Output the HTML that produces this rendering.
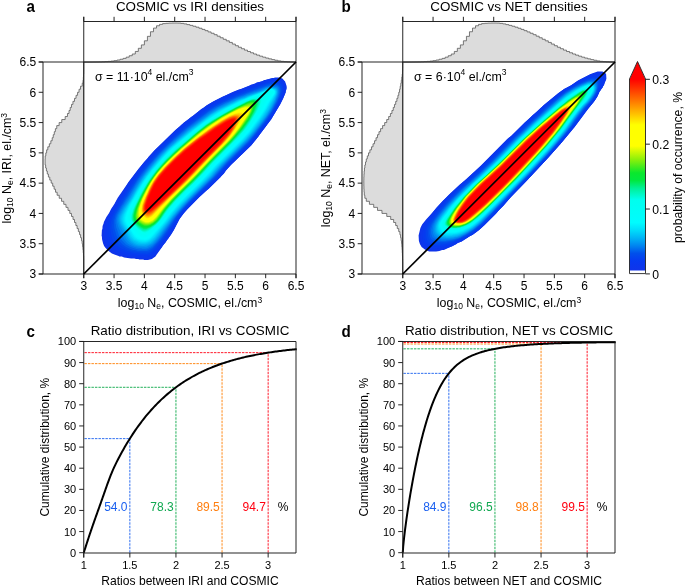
<!DOCTYPE html>
<html><head><meta charset="utf-8"><style>
html,body{margin:0;padding:0;background:#fff;}
svg{display:block;font-family:"Liberation Sans", sans-serif;will-change:transform;}
</style></head><body>
<svg width="685" height="585" viewBox="0 0 685 585">
<rect width="685" height="585" fill="#fff"/>
<defs><clipPath id="ca"><rect x="83.75" y="62" width="212.25" height="212"/></clipPath><clipPath id="cb"><rect x="402.75" y="62" width="212.25" height="212"/></clipPath></defs>
<g clip-path="url(#ca)"><path d="M285.1 81.4 282.4 78.6 279.6 77.4 274.9 77.4 273.9 77.9 272.4 77.9 265.1 80.1 264.4 80.1 261.6 81.4 256.6 82.6 255.4 83.4 253.4 83.9 252.1 84.6 251.4 84.6 249.6 85.6 240.9 89.1 238.9 89.6 232.6 92.1 224.4 96.1 223.1 96.4 214.1 100.9 206.4 105.4 203.4 107.9 201.4 108.9 192.9 115.9 191.1 116.9 188.1 119.6 183.9 122.6 182.4 124.1 181.1 124.9 179.6 126.6 175.9 129.6 154.4 150.6 148.4 157.1 147.6 158.4 144.6 161.4 140.1 167.1 138.4 168.9 128.1 182.4 126.9 184.6 117.6 198.1 114.4 204.1 111.1 208.9 109.1 212.9 106.4 217.1 103.9 222.1 103.6 223.6 102.6 225.9 102.4 228.9 101.9 230.1 101.6 236.1 101.9 236.4 102.1 239.6 103.1 243.6 104.1 245.9 105.6 248.1 108.6 251.1 111.9 253.4 114.4 254.6 118.6 255.9 119.4 256.4 121.9 256.6 124.1 257.4 131.1 258.4 131.4 258.6 134.4 258.6 136.1 259.1 138.6 259.1 138.9 259.4 141.1 259.4 141.4 259.6 143.6 259.6 143.9 259.9 147.9 259.9 151.9 258.9 155.4 256.4 162.1 247.1 162.9 245.6 165.6 242.4 167.1 239.9 168.4 238.6 168.9 237.4 171.1 234.6 173.6 230.6 179.1 219.6 183.6 213.4 187.1 209.4 199.4 197.1 207.1 189.9 208.4 189.1 220.6 177.1 221.4 175.9 223.9 173.4 225.9 170.6 230.9 165.1 251.1 145.4 258.4 136.6 259.4 134.9 266.6 125.6 266.9 124.9 271.1 119.4 280.1 104.4 283.1 98.6 285.6 92.4 285.6 91.6 286.6 88.9 286.6 85.9Z" fill="#0f34ea"/>
<path d="M283.9 81.1 281.1 78.9 279.1 78.1 277.6 78.1 277.4 77.9 273.6 78.1 267.6 79.4 256.4 83.1 241.4 89.1 238.6 89.9 223.1 96.6 212.4 102.1 207.4 105.1 201.6 109.1 183.6 123.1 174.6 130.9 154.4 150.6 145.1 160.9 139.4 167.9 128.6 182.4 121.9 193.1 117.9 198.9 117.4 200.1 115.9 202.1 115.4 203.4 111.4 209.6 105.9 220.9 104.4 225.9 104.1 229.4 103.9 229.6 103.6 234.1 103.9 234.4 104.4 238.9 105.9 243.6 108.4 247.6 112.9 251.4 116.6 253.4 120.6 254.9 129.9 257.1 134.9 257.6 136.9 258.1 146.4 258.9 146.6 258.6 149.6 258.4 151.6 257.6 154.9 255.4 161.1 247.9 170.4 235.4 174.1 229.6 179.9 218.4 183.6 213.4 187.1 209.4 199.4 197.1 207.1 189.9 208.4 189.1 220.6 177.1 221.4 175.9 223.9 173.4 225.9 170.6 230.9 165.1 251.1 145.4 258.4 136.6 259.4 134.9 266.6 125.6 266.9 124.9 271.1 119.4 280.1 104.4 283.1 98.6 285.6 92.4 286.4 87.6 285.6 84.4Z" fill="#0b37ed"/>
<path d="M282.6 82.1 280.9 80.6 278.4 79.6 274.4 79.6 267.1 81.1 263.4 82.6 258.1 84.1 234.1 93.4 224.1 98.1 223.6 98.1 215.1 102.4 209.1 105.9 202.6 110.4 184.9 124.1 175.6 132.1 170.4 137.4 166.6 140.6 154.9 152.4 146.4 161.9 139.4 170.4 133.9 177.6 128.9 184.9 125.9 189.9 119.9 198.6 118.6 201.1 117.1 203.1 116.6 204.4 112.6 210.6 108.1 219.9 106.9 223.6 106.1 227.4 106.1 234.9 106.4 235.1 106.4 236.4 108.4 242.9 110.6 246.4 115.1 250.1 119.1 252.1 125.9 254.4 131.4 255.6 134.6 255.9 136.4 256.4 141.1 256.6 141.4 256.9 146.6 257.1 150.1 256.4 153.1 254.6 157.1 250.4 165.6 239.4 172.6 229.1 175.4 223.9 179.1 217.9 184.4 211.4 198.9 196.4 211.4 184.9 217.4 178.9 226.4 168.4 232.6 161.9 250.1 144.9 255.9 138.1 270.1 119.4 273.9 113.4 278.6 105.1 281.9 98.4 283.4 94.4 284.6 89.4 284.4 85.6Z" fill="#0839ef"/>
<path d="M282.1 83.6 280.4 81.9 278.1 80.9 273.6 80.9 268.4 81.9 257.9 85.4 243.4 91.1 239.4 92.4 232.1 95.4 223.9 99.4 223.4 99.4 212.9 104.9 203.4 111.1 185.6 124.9 176.9 132.4 169.4 139.4 157.1 151.4 146.9 162.9 139.9 171.4 129.9 185.4 124.6 193.9 120.6 199.6 114.1 210.4 111.1 216.4 108.9 222.6 108.4 226.9 108.1 227.1 108.1 231.4 108.4 231.6 108.4 233.9 108.9 236.4 110.6 241.6 112.9 245.1 116.6 248.4 121.9 251.1 126.9 252.9 131.6 254.1 137.6 254.9 137.9 255.1 146.6 255.6 149.9 254.9 152.1 253.6 156.6 249.1 165.6 237.6 171.1 229.6 174.9 222.9 178.4 217.4 185.4 208.9 198.6 195.4 215.4 179.6 229.4 163.9 248.9 144.9 256.1 136.4 258.4 133.1 260.4 130.9 270.4 117.4 277.9 104.6 280.9 98.4 282.9 92.6 283.6 88.6 283.4 86.4Z" fill="#053def"/>
<path d="M281.4 84.6 279.6 82.9 278.1 82.1 276.6 82.1 276.4 81.9 272.4 82.1 267.4 83.1 245.4 91.1 242.1 92.6 239.4 93.4 228.9 97.9 225.1 99.9 224.6 99.9 213.1 105.9 204.1 111.9 185.6 126.1 169.6 140.4 155.4 154.6 147.9 163.1 140.1 172.6 131.1 185.4 125.6 194.4 121.6 200.1 116.9 208.4 115.1 210.9 112.4 216.6 111.1 220.4 110.4 223.9 110.4 226.4 110.1 226.6 110.4 231.1 111.4 236.1 113.1 240.9 115.1 243.9 118.1 246.6 120.9 248.4 125.6 250.6 131.9 252.6 134.4 252.9 137.4 253.6 146.9 254.1 149.1 253.6 152.4 251.6 156.6 247.4 162.4 240.4 171.6 227.1 174.9 221.4 177.9 216.9 185.1 208.1 198.6 194.4 207.1 186.6 217.1 176.6 223.9 168.6 228.1 164.1 249.9 142.6 256.4 134.9 257.6 132.9 263.9 125.1 269.4 117.6 275.4 107.6 278.9 100.9 278.9 100.4 280.6 96.9 282.4 90.6 282.4 87.1Z" fill="#0345ed"/>
<path d="M280.4 85.4 278.9 83.9 276.9 83.1 272.6 83.1 267.4 84.1 235.6 95.9 216.9 104.9 208.6 109.9 188.1 125.4 176.6 135.1 166.6 144.4 156.1 155.1 148.9 163.4 141.1 172.9 132.4 185.4 126.6 194.9 122.6 200.6 122.1 201.9 115.9 211.9 113.6 216.9 112.6 220.6 112.4 223.6 112.1 223.9 112.1 227.9 112.4 228.1 112.9 232.1 114.4 237.1 115.6 240.1 117.4 242.6 121.4 246.1 127.1 249.4 131.4 250.9 136.9 252.1 141.6 252.4 141.9 252.6 148.1 252.4 150.4 251.4 154.1 248.4 158.1 244.1 163.6 237.1 171.9 225.1 174.1 221.1 177.4 216.4 183.4 209.1 197.4 194.6 206.6 186.1 215.9 176.9 223.1 168.4 227.4 163.9 249.1 142.4 259.4 129.9 266.6 120.4 269.9 115.6 273.4 109.9 277.9 101.4 278.6 99.1 279.6 97.4 281.4 91.1 281.4 87.6Z" fill="#014eec"/>
<path d="M278.1 84.9 276.9 84.4 273.4 84.1 273.1 84.4 269.4 84.6 265.1 85.9 261.9 87.4 259.9 87.9 257.1 89.1 254.4 89.9 251.6 91.1 236.9 96.4 232.9 98.4 230.1 99.4 224.9 102.1 224.4 102.1 214.9 107.1 209.6 110.4 186.9 127.6 176.6 136.4 167.9 144.4 159.4 152.9 148.4 165.4 142.1 173.1 137.1 180.1 128.6 193.4 127.6 195.4 124.1 200.4 122.4 203.6 120.4 206.4 119.6 208.1 116.9 212.4 115.6 215.1 114.1 220.6 114.1 227.1 114.4 227.4 114.4 228.6 116.6 235.9 118.4 239.6 119.4 241.1 122.6 244.4 126.1 246.9 129.1 248.4 133.4 249.9 134.4 249.9 138.1 250.9 140.4 250.9 140.6 251.1 146.9 251.1 149.6 250.1 152.9 247.9 157.6 243.1 161.1 238.9 167.6 229.9 176.4 216.6 181.9 209.9 187.6 203.6 214.6 177.1 227.1 163.1 248.6 141.9 254.4 135.1 262.6 124.6 267.6 117.9 272.4 110.4 277.1 101.4 279.4 95.9 280.4 91.9 280.4 88.4 279.6 86.4Z" fill="#0060ed"/>
<path d="M277.6 86.1 275.6 85.4 270.6 85.4 265.1 86.9 263.9 87.6 257.4 89.9 256.6 90.4 253.9 91.1 253.1 91.6 246.1 93.9 244.1 94.9 236.9 97.4 227.6 101.9 227.1 101.9 216.4 107.4 208.9 112.1 188.4 127.6 178.9 135.6 168.9 144.6 159.9 153.6 148.1 167.1 143.1 173.4 137.6 181.1 128.6 195.9 125.1 200.9 123.4 204.1 122.1 205.6 116.9 215.1 115.6 220.1 115.6 223.9 115.9 224.1 116.1 226.9 119.1 235.4 120.6 238.4 122.1 240.6 125.9 244.4 130.4 247.1 136.4 249.1 139.6 249.4 139.9 249.6 146.9 249.6 149.4 248.6 152.1 246.9 157.6 241.6 162.4 235.6 174.6 217.9 182.6 208.1 190.1 200.1 213.6 177.1 226.6 162.6 248.1 141.4 254.1 134.4 264.1 121.6 271.1 111.4 276.4 101.4 278.4 96.4 279.4 92.9 279.6 90.1 279.4 89.9 279.4 88.6 278.6 87.1Z" fill="#0075ef"/>
<path d="M276.9 87.1 274.9 86.4 269.9 86.4 266.9 87.1 259.4 90.4 246.6 94.6 243.4 96.1 237.4 98.1 226.1 103.6 225.6 103.6 217.9 107.6 208.1 113.9 188.6 128.6 170.1 144.6 159.1 155.6 148.9 167.6 140.9 178.1 135.6 186.1 129.1 197.1 123.1 206.1 118.1 215.1 117.1 218.6 117.1 222.1 118.1 226.6 123.1 237.6 124.9 240.4 127.6 243.4 132.1 246.1 136.4 247.6 138.9 247.9 139.1 248.1 141.6 248.1 141.9 248.4 145.4 248.4 147.6 247.9 150.6 246.4 152.9 244.9 155.6 242.4 160.9 236.1 164.4 230.9 169.9 223.6 171.4 221.1 180.9 209.1 190.9 198.4 212.9 176.9 216.6 172.4 226.1 162.1 247.6 140.9 253.9 133.6 266.6 117.1 270.4 111.4 275.9 100.9 276.1 99.6 277.6 96.4 278.6 92.6 278.6 89.9 277.9 88.1Z" fill="#0089f1"/>
<path d="M276.6 88.1 274.1 87.1 269.4 87.1 266.1 88.1 260.1 90.9 238.9 98.4 232.1 101.6 231.6 101.6 217.9 108.6 208.9 114.4 188.1 130.1 170.1 145.6 160.6 155.1 152.1 164.9 145.1 173.6 141.4 178.9 135.6 187.9 128.9 199.4 123.4 207.6 119.1 215.6 118.4 218.4 118.4 220.9 119.4 224.9 122.1 229.9 126.4 238.9 127.6 240.6 130.1 243.1 134.1 245.4 138.1 246.6 145.9 246.9 148.4 246.1 151.4 244.6 153.6 242.9 156.4 240.1 161.4 233.9 162.4 232.1 169.1 223.4 173.9 216.6 181.9 207.1 188.9 199.6 212.4 176.4 215.9 172.1 226.1 161.1 247.4 140.1 252.6 134.1 258.4 126.9 267.4 114.9 268.9 112.1 270.4 110.1 274.4 102.6 277.4 95.1 277.9 93.1 277.9 90.1Z" fill="#009bf2"/>
<path d="M276.1 88.6 273.6 87.6 269.4 87.6 266.1 88.6 263.4 90.1 258.4 92.1 247.9 95.6 244.6 97.1 239.4 98.9 232.1 102.4 231.6 102.4 218.9 108.9 210.1 114.4 191.1 128.6 176.4 140.9 171.6 145.4 169.6 146.9 162.9 153.6 153.4 164.4 144.1 176.1 138.6 184.4 130.6 198.1 124.1 208.1 120.1 215.9 119.6 217.6 119.6 221.1 120.4 223.9 122.6 228.1 124.4 230.6 128.1 238.6 131.1 242.1 135.1 244.4 138.1 245.4 144.4 245.9 144.6 245.6 147.1 245.4 150.6 243.9 152.1 242.9 155.6 239.6 159.4 235.1 161.9 231.4 168.4 223.1 172.6 217.1 182.1 205.9 189.4 198.1 211.9 175.9 220.9 165.6 247.6 138.9 254.4 130.9 265.9 115.9 271.4 106.9 274.6 100.4 277.1 93.9 277.4 90.6Z" fill="#00adf4"/>
<path d="M275.9 89.1 275.1 88.6 272.4 87.9 268.9 88.1 266.6 88.9 263.9 90.4 260.9 91.4 259.6 92.1 248.6 95.9 244.1 97.9 242.1 98.4 237.9 100.1 218.4 109.9 210.1 115.1 188.4 131.6 169.4 147.9 161.1 156.4 153.1 165.6 144.9 176.1 139.9 183.6 131.6 197.9 124.6 208.9 121.4 215.4 120.6 217.9 120.6 220.6 121.4 223.4 123.6 227.6 126.4 231.9 128.9 237.4 131.4 240.6 133.4 242.1 135.9 243.4 138.9 244.4 145.6 244.6 150.4 242.9 154.6 239.4 158.6 234.6 171.1 217.9 181.9 205.1 211.4 175.4 214.9 171.1 221.4 164.1 245.1 140.6 252.1 132.6 262.6 119.1 269.1 109.4 274.1 99.9 276.4 94.6 276.9 92.6 276.9 90.9Z" fill="#00bef6"/>
<path d="M275.4 89.4 273.1 88.4 269.4 88.4 266.9 89.1 263.6 90.9 261.9 91.4 259.4 92.6 247.9 96.6 246.6 97.4 238.6 100.4 219.1 110.1 211.1 115.1 203.1 120.9 188.4 132.4 178.1 140.9 169.4 148.6 161.6 156.6 153.6 165.9 144.9 177.1 144.6 177.9 140.1 184.4 132.4 197.9 127.9 204.9 125.1 209.6 124.9 210.6 122.4 215.4 121.6 218.4 121.6 220.1 122.4 223.1 124.4 226.9 127.6 231.9 130.4 237.4 133.4 240.6 138.6 243.1 141.1 243.6 145.4 243.6 149.6 242.1 152.4 240.1 155.4 237.1 163.9 226.1 167.1 222.4 171.4 216.4 181.1 204.9 210.4 175.4 213.6 171.4 219.9 164.6 244.9 139.9 250.6 133.4 261.6 119.1 268.1 109.4 275.6 95.1 276.4 92.6 276.4 91.1Z" fill="#00cdf8"/>
<path d="M274.6 89.4 272.6 88.6 269.9 88.6 267.1 89.4 260.9 92.4 248.4 96.9 244.1 98.9 240.4 100.1 232.4 104.1 231.9 104.1 219.9 110.4 210.6 116.1 201.4 122.9 189.9 131.9 170.1 148.6 162.1 156.9 151.1 169.9 143.4 180.4 135.6 193.1 133.1 197.9 129.1 204.1 123.6 214.9 122.6 219.1 122.9 221.1 123.6 223.4 125.4 226.6 129.6 233.1 130.9 235.9 133.9 239.4 134.9 240.1 139.4 242.1 141.9 242.6 144.6 242.6 147.1 242.1 149.4 241.1 153.9 237.4 166.4 222.1 173.4 212.6 180.1 204.9 209.4 175.4 212.6 171.4 218.6 164.9 244.4 139.4 250.1 132.9 263.1 115.6 272.4 100.1 275.4 94.4 275.9 92.9 275.6 90.4Z" fill="#00ddfa"/>
<path d="M274.6 89.9 272.1 88.9 270.1 88.9 267.9 89.4 264.6 91.1 261.1 92.4 259.9 93.1 250.1 96.6 239.9 100.9 221.9 109.9 215.1 113.9 204.9 120.9 190.1 132.4 170.9 148.6 162.4 157.4 151.6 170.1 146.6 176.6 142.6 182.6 129.6 204.6 124.9 214.1 123.9 217.6 123.9 220.9 124.6 223.1 126.1 225.9 129.9 231.4 131.9 235.1 134.6 238.4 137.4 240.1 140.1 241.1 142.6 241.4 142.9 241.6 145.9 241.4 148.1 240.6 150.1 239.4 154.1 235.6 166.6 220.6 167.6 218.9 172.6 212.4 178.9 205.1 208.1 175.6 217.4 165.1 243.6 139.1 249.6 132.4 259.6 119.1 266.4 108.9 269.1 103.6 271.6 99.9 275.1 93.6 275.4 91.1Z" fill="#00e9fc"/>
<path d="M273.9 89.9 271.1 89.1 268.9 89.4 261.9 92.6 252.4 96.1 250.4 97.1 249.1 97.4 245.6 99.1 239.4 101.6 225.4 108.6 215.4 114.4 203.6 122.4 193.1 130.6 174.1 146.4 164.9 155.4 151.9 170.6 150.6 172.6 147.1 176.9 143.1 182.9 130.1 205.1 125.9 214.1 124.9 217.9 124.9 220.4 125.4 222.1 127.1 225.6 130.4 230.1 133.4 235.1 134.9 236.9 137.6 238.9 140.6 240.1 145.6 240.4 148.4 239.4 151.1 237.4 152.9 235.6 165.1 221.4 170.6 213.6 179.9 202.9 187.4 195.1 199.9 183.1 208.9 173.6 215.9 165.6 242.9 138.9 249.1 131.9 260.9 115.9 265.6 108.4 268.9 102.4 274.1 94.6 274.9 92.9 274.9 91.1Z" fill="#00f6fe"/>
<path d="M273.9 90.4 272.4 89.6 269.1 89.6 260.9 93.4 248.9 97.9 247.1 98.9 239.9 101.9 236.9 103.6 230.4 106.6 216.4 114.4 205.1 121.9 193.6 130.9 173.1 147.9 164.6 156.4 153.1 169.9 147.4 177.4 144.4 181.9 132.1 202.9 127.1 213.1 125.9 218.1 125.9 219.9 126.9 223.1 133.6 233.4 136.9 236.9 141.1 239.1 145.1 239.4 146.4 239.1 148.9 237.9 153.1 233.9 164.4 221.1 169.9 213.4 178.4 203.4 203.9 177.9 214.6 165.9 242.1 138.6 247.4 132.9 251.4 127.9 260.4 115.1 263.9 109.6 268.1 101.9 273.4 94.9 274.4 92.9 274.4 91.1Z" fill="#00fcfe"/>
<path d="M273.1 90.4 271.9 89.9 268.6 90.1 262.4 93.1 249.1 98.1 242.4 101.4 241.9 101.4 236.4 104.4 231.4 106.6 230.9 107.1 221.1 112.1 214.9 115.9 204.1 123.1 191.6 133.1 184.1 139.6 174.4 147.4 164.1 157.6 154.9 168.4 147.6 177.9 146.4 180.1 145.1 181.6 137.6 194.4 135.4 198.9 133.6 201.4 128.4 212.1 127.1 216.1 126.9 219.4 127.4 221.6 128.9 224.6 134.4 232.4 137.6 235.9 140.4 237.6 142.9 238.4 146.1 238.1 149.6 236.1 162.6 222.1 166.1 217.6 169.1 213.1 177.6 203.1 186.1 194.4 199.1 181.9 207.1 173.4 213.9 165.6 242.6 137.1 248.4 130.6 252.1 125.6 261.4 112.1 268.1 100.4 273.4 93.9 273.9 92.9 273.9 91.4Z" fill="#00fdfc"/>
<path d="M272.6 90.6 269.1 90.4 262.1 93.6 249.9 98.1 240.1 102.9 239.6 102.9 238.6 103.6 230.9 107.4 216.1 115.6 205.1 122.9 197.1 129.1 183.9 140.4 173.9 148.4 165.1 157.1 153.6 170.6 151.6 173.6 149.6 175.9 144.9 182.9 140.9 190.1 138.9 193.1 135.4 199.9 134.4 201.1 131.6 206.9 131.1 207.4 129.1 212.1 127.9 217.1 127.9 219.6 128.4 221.6 129.6 224.1 135.6 232.1 138.6 235.1 140.9 236.6 143.4 237.4 144.9 237.4 146.6 236.9 149.4 235.1 162.9 220.9 168.1 213.4 176.1 203.9 200.1 179.9 215.9 162.6 244.1 134.6 248.4 129.6 251.9 124.9 252.6 123.4 260.1 112.6 267.1 100.4 273.1 93.1 273.4 91.6Z" fill="#00fdf9"/>
<path d="M272.1 91.1 271.6 90.9 269.1 90.9 267.6 91.4 267.1 91.9 262.6 93.9 250.6 98.1 248.9 99.1 246.1 100.1 226.9 109.9 215.6 116.4 206.1 122.6 197.4 129.4 183.9 140.9 175.6 147.4 165.6 157.1 155.9 168.4 147.1 180.1 139.4 193.1 135.6 200.4 134.6 201.6 133.4 204.6 131.4 208.1 129.9 211.9 128.6 216.6 128.6 219.4 129.1 221.4 130.4 223.9 135.6 230.6 139.6 234.6 141.1 235.6 143.1 236.4 145.4 236.4 148.6 234.6 161.4 221.9 170.4 209.6 179.9 199.1 199.9 179.4 211.6 166.4 220.1 157.6 243.4 134.6 249.4 127.4 259.6 112.1 264.1 103.6 266.6 99.6 272.1 93.4 272.6 92.4Z" fill="#00fdf7"/>
<path d="M270.9 91.9 269.1 91.6 262.9 94.4 250.1 98.6 231.9 107.6 215.9 116.6 207.4 122.1 197.9 129.4 185.6 139.9 173.9 149.4 165.9 157.4 157.1 167.4 147.4 180.4 143.4 186.9 142.6 188.6 139.4 193.9 136.4 199.9 135.1 201.6 133.6 205.1 132.1 207.6 130.6 211.4 129.4 215.6 129.4 220.1 130.6 223.1 132.9 226.1 134.4 227.6 136.4 230.4 139.1 233.1 141.1 234.6 143.6 235.6 145.9 235.4 149.1 233.4 161.9 220.6 168.6 211.1 175.9 202.6 185.1 193.1 197.9 180.9 212.4 164.9 243.4 133.9 248.4 127.9 253.9 119.9 259.6 110.9 265.1 100.4 271.1 92.9Z" fill="#00fef5"/>
<path d="M267.6 94.1 264.9 94.4 258.9 96.4 255.4 97.1 250.9 98.6 247.4 100.4 246.9 100.4 226.9 110.6 213.6 118.4 205.4 123.9 198.6 129.1 184.6 141.1 174.4 149.4 165.6 158.1 155.9 169.4 149.6 177.6 146.1 182.9 139.6 194.1 136.4 200.6 135.1 202.4 131.1 211.4 129.9 215.6 129.9 219.9 130.4 221.4 131.6 223.6 133.6 226.1 139.1 232.1 140.6 233.4 142.9 234.6 143.9 234.9 145.6 234.6 148.4 233.1 156.9 225.4 162.6 219.1 168.1 211.1 175.1 202.9 200.9 177.1 211.6 165.1 241.9 134.9 248.4 127.1 257.6 113.1 260.9 107.4 264.6 99.4 267.6 94.9Z" fill="#00fef3"/>
<path d="M264.4 96.1 262.4 96.1 254.9 97.6 250.9 98.9 249.1 99.9 246.4 100.9 228.9 109.9 213.4 118.9 205.9 123.9 193.6 133.6 185.4 140.9 174.9 149.4 165.1 159.1 156.6 168.9 147.1 181.9 140.1 193.9 138.1 198.1 136.1 201.4 132.6 208.6 132.4 209.9 131.1 212.6 130.4 215.6 130.4 219.6 131.1 221.9 133.9 225.6 139.9 231.9 143.1 233.9 145.6 233.9 148.6 232.1 156.4 225.4 161.4 220.1 166.9 212.1 174.6 202.9 200.4 177.1 211.4 164.9 242.9 133.1 248.4 126.4 257.6 112.1 261.1 105.4 261.1 104.9 264.6 97.1Z" fill="#00fff1"/>
<path d="M262.4 97.6 260.1 97.4 259.9 97.6 257.6 97.6 257.4 97.9 254.4 98.1 251.6 98.9 246.4 101.1 227.1 111.1 211.9 120.1 205.6 124.4 199.1 129.4 184.6 141.9 175.6 149.1 164.4 160.4 156.4 169.6 150.1 177.9 147.1 182.4 136.4 201.6 132.4 210.4 131.1 214.1 130.9 216.9 130.6 217.1 131.1 220.6 132.1 222.6 133.9 224.9 138.9 230.1 142.6 232.9 145.4 233.1 148.6 231.4 155.6 225.6 161.4 219.6 166.6 211.9 174.4 202.6 200.4 176.6 211.4 164.4 238.6 137.1 243.9 131.4 248.4 125.6 256.9 112.4 259.6 107.1 262.6 99.4 262.6 97.9Z" fill="#00ffee"/>
<path d="M260.9 98.6 260.1 98.4 253.6 98.6 250.4 99.6 248.6 100.6 246.4 101.4 228.1 110.9 212.4 120.1 206.4 124.1 194.4 133.6 184.1 142.6 176.1 149.1 165.9 159.1 156.9 169.4 150.6 177.6 147.1 182.9 140.1 195.1 135.4 204.4 132.9 210.1 131.1 216.4 131.4 219.9 132.9 222.9 138.4 228.9 142.9 232.1 145.1 232.4 146.6 231.9 148.4 230.9 153.6 226.9 160.1 220.6 167.4 210.4 174.4 202.1 200.4 176.1 211.6 163.6 237.6 137.6 244.4 130.1 248.4 124.9 251.9 119.6 257.6 109.9 259.6 105.6 261.1 101.4 261.4 99.4Z" fill="#00fcdb"/>
<path d="M259.4 99.4 257.1 98.9 254.1 98.9 250.4 99.9 248.6 100.9 246.4 101.6 228.6 110.9 213.6 119.6 205.4 125.1 193.9 134.4 185.1 142.1 174.9 150.6 164.9 160.6 156.6 170.1 151.1 177.4 147.1 183.4 141.1 193.9 133.9 208.6 131.9 214.9 131.6 218.6 132.1 220.6 133.6 223.1 137.6 227.4 142.1 230.9 143.9 231.6 145.1 231.6 147.6 230.6 150.4 228.9 156.1 224.4 158.4 222.1 162.1 217.6 165.1 212.9 168.1 208.9 174.4 201.6 184.1 191.6 193.1 183.1 203.9 171.9 211.9 162.9 236.9 137.9 243.6 130.4 247.9 124.9 256.1 111.6 258.6 106.4 259.9 102.9 260.1 100.1Z" fill="#00f8c4"/>
<path d="M258.4 100.1 256.4 99.4 253.1 99.4 251.1 99.9 246.4 101.9 229.1 110.9 212.9 120.4 204.1 126.4 193.6 134.9 189.9 138.4 175.6 150.4 166.4 159.4 158.1 168.6 150.9 178.1 144.6 188.1 135.9 204.9 133.9 209.6 132.4 214.4 132.1 218.9 132.6 220.6 133.6 222.4 137.4 226.4 142.6 230.4 144.1 230.9 145.9 230.6 149.1 229.1 155.4 224.6 159.4 220.6 167.1 209.6 174.6 200.9 183.6 191.6 193.4 182.4 204.1 171.1 212.9 161.4 236.1 138.1 243.1 130.4 247.9 124.1 255.1 112.4 258.6 104.6 259.1 102.6 259.1 100.9Z" fill="#00f4ad"/>
<path d="M257.1 100.4 254.9 99.6 253.4 99.6 251.1 100.1 248.6 101.4 246.9 101.9 229.6 110.9 212.1 121.1 206.9 124.6 195.1 133.9 173.9 152.4 164.4 161.9 156.6 170.9 151.9 177.1 147.9 183.1 141.6 194.1 135.4 206.9 132.9 214.1 132.6 218.9 133.1 220.6 133.9 221.9 137.6 225.9 139.4 227.4 143.4 229.9 145.9 229.9 149.9 228.1 154.9 224.6 157.1 222.6 161.4 217.6 163.1 214.6 167.1 209.1 174.9 200.1 183.1 191.6 193.6 181.6 204.4 170.4 210.1 163.9 231.6 142.4 243.4 129.4 250.4 119.6 253.6 114.1 256.4 108.6 258.1 103.9 258.1 102.6 258.4 102.4 258.1 101.4Z" fill="#00f096"/>
<path d="M256.1 100.6 254.9 100.1 252.1 100.1 246.9 102.1 229.6 111.1 213.4 120.6 205.9 125.6 194.9 134.4 175.4 151.4 166.1 160.4 156.9 170.9 148.6 182.4 141.4 195.1 136.6 204.9 134.9 209.1 133.4 213.9 133.1 219.1 134.6 222.1 137.9 225.4 140.4 227.4 143.6 229.1 146.1 229.1 149.9 227.6 155.4 223.9 158.4 220.9 160.6 218.1 163.6 213.4 167.9 207.6 175.1 199.4 182.4 191.9 196.4 178.4 210.9 162.6 231.9 141.6 242.9 129.4 249.9 119.6 255.1 110.1 257.4 104.1 257.4 101.9Z" fill="#00ed75"/>
<path d="M255.4 100.9 254.1 100.4 251.4 100.6 246.4 102.6 245.4 103.4 241.4 105.1 240.9 105.6 235.6 108.1 221.6 115.9 206.6 125.4 199.1 131.1 179.6 147.9 174.1 152.9 163.1 163.9 157.4 170.6 151.9 177.9 148.9 182.4 142.6 193.4 137.6 203.4 134.9 210.1 133.4 216.1 133.9 219.9 134.6 221.4 136.6 223.6 140.4 226.6 143.6 228.4 146.4 228.4 150.4 226.9 154.6 224.1 158.9 219.9 166.1 209.4 173.1 201.1 199.1 175.1 211.4 161.6 231.9 141.1 242.1 129.6 249.4 119.6 253.9 111.6 256.6 104.4 256.6 102.4Z" fill="#00ea53"/>
<path d="M255.1 101.4 253.4 100.6 251.6 100.9 248.1 102.1 242.4 105.1 241.9 105.1 221.6 116.1 206.6 125.6 197.6 132.6 181.1 146.9 172.6 154.6 163.9 163.4 157.6 170.6 152.1 177.9 149.1 182.4 142.6 193.9 137.6 204.1 135.1 210.6 133.9 215.6 133.9 217.9 134.4 219.9 135.4 221.6 137.4 223.6 141.1 226.4 143.9 227.6 147.1 227.6 148.1 227.1 148.9 227.1 153.4 224.6 157.4 221.1 160.6 217.1 161.4 215.6 166.1 208.9 173.9 199.9 199.9 173.9 209.6 163.1 232.1 140.4 241.6 129.6 249.4 118.9 253.9 110.4 255.9 104.6 255.9 102.6Z" fill="#02e83d"/>
<path d="M254.6 101.6 253.6 101.1 251.6 101.1 247.6 102.6 241.9 105.6 241.4 105.6 240.9 106.1 234.6 109.1 232.4 110.6 221.6 116.4 207.4 125.4 198.9 131.9 180.9 147.4 165.1 162.4 156.9 171.9 149.4 182.4 142.6 194.4 138.6 202.6 136.6 207.4 134.4 215.1 134.4 218.1 134.9 219.9 135.6 221.1 138.1 223.6 140.6 225.4 143.6 226.9 146.6 227.1 148.9 226.6 152.4 224.9 154.6 223.4 157.9 220.1 159.9 217.6 162.1 213.9 166.1 208.4 174.4 198.9 181.6 191.4 193.4 180.1 210.6 161.6 228.4 143.9 235.4 136.4 239.4 131.4 241.4 129.4 247.1 121.6 252.6 112.1 255.1 105.1 255.1 103.9 255.4 103.6 255.1 102.4Z" fill="#06e835"/>
<path d="M253.6 101.6 252.1 101.4 247.1 103.1 234.6 109.4 232.4 110.9 222.9 115.9 210.4 123.6 201.4 130.1 195.9 134.6 180.6 147.9 166.6 161.1 159.4 169.1 152.6 177.9 146.6 187.4 140.9 198.4 136.9 207.6 134.9 214.9 134.9 218.4 135.6 220.4 137.1 222.1 140.4 224.6 144.1 226.4 146.4 226.6 149.6 225.9 152.1 224.6 155.9 221.9 159.9 217.1 161.1 214.9 165.4 208.9 172.9 200.1 182.9 189.9 191.9 181.4 209.1 162.9 230.9 140.9 241.1 129.1 248.6 118.6 252.4 111.6 254.6 104.6 254.6 102.9Z" fill="#09e82e"/>
<path d="M253.4 102.1 251.6 101.9 247.9 103.1 234.1 109.9 217.4 119.4 206.4 126.6 195.6 135.1 184.1 145.4 180.6 148.1 176.9 151.9 174.1 154.1 162.9 165.4 154.9 175.1 149.4 183.1 142.9 194.9 138.9 203.4 136.4 210.1 135.1 216.4 135.4 216.6 135.6 219.1 136.6 220.9 138.1 222.4 140.6 224.1 143.1 225.4 144.6 225.9 148.4 225.9 153.1 223.6 156.6 220.6 159.6 216.9 161.4 213.9 164.6 209.4 170.9 201.9 178.4 193.9 193.1 179.6 210.4 161.1 231.9 139.4 240.9 128.9 247.9 119.1 251.9 111.9 253.9 105.1 253.9 102.6Z" fill="#23ea26"/>
<path d="M252.9 102.6 251.6 102.4 247.6 103.6 236.9 108.6 222.4 116.6 206.4 126.9 195.6 135.4 184.1 145.6 180.6 148.4 176.6 152.4 173.9 154.6 163.1 165.4 157.4 172.1 149.9 182.6 143.1 194.9 139.4 202.9 136.9 209.6 135.6 215.6 136.1 219.1 136.9 220.4 138.6 222.1 142.6 224.6 144.6 225.4 147.1 225.6 149.4 225.1 152.4 223.6 154.6 222.1 156.9 219.9 159.6 216.4 161.9 212.6 165.6 207.6 172.6 199.6 182.1 189.9 191.9 180.6 209.4 161.9 230.6 140.4 240.9 128.4 247.6 118.9 251.4 112.1 252.4 109.4 253.4 104.6 253.4 103.4Z" fill="#40eb1e"/>
<path d="M251.9 103.1 250.9 103.1 247.4 104.1 236.4 109.1 221.9 117.1 207.1 126.6 197.1 134.4 180.6 148.6 176.9 152.4 173.9 154.9 163.1 165.6 155.9 174.4 149.6 183.4 143.6 194.4 139.6 202.9 137.4 209.1 136.1 215.1 136.1 216.9 136.6 218.9 137.4 220.1 139.1 221.9 143.4 224.4 146.1 225.1 147.6 225.1 150.1 224.4 153.4 222.6 156.6 219.6 164.9 208.1 170.9 201.1 197.9 174.1 213.9 156.9 228.6 142.1 239.9 129.1 247.4 118.6 251.1 111.9 252.1 108.6 252.4 105.6 252.6 105.4 252.6 104.1Z" fill="#5ded17"/>
<path d="M251.4 104.1 249.1 104.1 246.6 104.9 241.6 106.9 235.4 109.9 221.4 117.6 207.9 126.4 198.4 133.6 180.9 148.6 176.9 152.6 174.1 154.9 163.1 165.9 155.9 174.6 150.1 182.9 144.4 193.4 140.1 202.4 137.6 209.4 136.6 214.6 136.6 216.6 137.1 218.6 137.9 219.9 139.6 221.6 143.4 223.9 145.9 224.6 147.9 224.6 149.6 224.1 152.6 222.6 154.1 221.6 156.4 219.4 164.1 208.6 172.6 198.9 179.6 191.6 192.4 179.4 210.1 160.4 230.9 139.4 234.4 135.4 241.4 126.6 249.1 115.1 250.9 111.6 251.6 109.1 251.9 105.1Z" fill="#7aef0f"/>
<path d="M250.9 105.1 250.4 104.9 248.1 104.9 243.6 106.4 238.4 108.6 222.6 117.1 207.9 126.6 200.9 131.9 188.4 142.4 186.4 144.4 181.1 148.6 168.6 160.4 158.4 171.6 152.9 178.9 147.1 188.4 142.1 198.4 138.4 207.9 137.1 214.1 137.1 216.4 137.6 218.4 139.9 221.1 142.4 222.9 145.9 224.1 148.1 224.1 150.4 223.4 153.1 221.9 155.9 219.4 158.9 215.6 163.4 209.1 171.6 199.6 180.6 190.4 191.4 180.1 209.1 161.1 229.9 140.1 234.9 134.4 243.9 122.6 249.6 113.6 251.1 109.6 251.1 105.6Z" fill="#96f109"/>
<path d="M249.9 105.6 248.9 105.4 246.4 105.9 243.1 106.9 238.4 108.9 222.1 117.6 209.4 125.9 201.9 131.4 192.1 139.4 186.6 144.4 181.4 148.6 168.1 161.1 158.4 171.9 153.6 178.1 147.9 187.4 142.1 198.9 138.6 208.1 137.6 213.4 137.6 216.1 138.1 217.9 140.1 220.6 142.1 222.1 145.6 223.6 148.1 223.6 149.9 223.1 153.1 221.4 156.9 217.6 163.6 208.4 170.4 200.6 181.1 189.6 190.6 180.6 208.6 161.4 228.9 140.9 234.1 134.9 240.6 126.6 248.9 114.4 250.1 111.9 250.9 108.6 250.6 106.6Z" fill="#aff507"/>
<path d="M249.6 106.4 247.6 106.1 245.1 106.6 238.4 109.1 221.6 118.1 210.1 125.6 200.6 132.6 188.9 142.4 185.1 145.9 181.9 148.4 167.1 162.4 159.6 170.6 153.6 178.4 147.4 188.6 142.4 198.9 139.1 207.4 138.1 212.4 138.4 216.9 139.1 218.6 140.6 220.4 144.1 222.6 145.6 223.1 148.4 223.1 152.4 221.4 156.1 217.9 163.6 207.9 172.4 198.1 197.1 173.6 207.9 161.9 227.4 142.1 233.6 135.1 239.4 127.9 248.4 114.6 249.9 111.6 250.4 109.9 250.4 108.1Z" fill="#c9f805"/>
<path d="M248.9 106.9 244.9 107.1 238.4 109.4 230.9 113.1 228.6 114.6 222.4 117.9 210.9 125.4 199.4 133.9 182.1 148.4 164.9 164.9 156.4 174.9 152.1 180.9 148.4 187.1 143.1 197.6 140.9 202.9 138.9 209.6 138.6 215.4 139.4 217.9 142.4 221.1 145.6 222.6 148.6 222.6 153.4 220.1 156.9 216.4 164.1 206.9 171.4 198.9 196.6 173.9 212.9 156.4 230.1 138.9 239.4 127.4 248.6 113.6 249.9 110.6 249.9 108.1Z" fill="#e3fb02"/>
<path d="M248.9 107.6 248.4 107.4 245.6 107.4 243.1 107.9 238.4 109.6 230.4 113.6 221.9 118.4 214.1 123.4 201.6 132.4 189.4 142.4 176.1 154.1 164.4 165.6 157.1 174.1 150.9 183.1 146.4 191.4 146.4 191.9 143.1 198.1 141.1 202.9 139.4 208.6 138.9 213.1 139.1 213.4 139.4 216.4 140.4 218.4 142.6 220.6 145.6 222.1 148.6 222.1 152.4 220.4 156.4 216.4 163.1 207.6 170.6 199.4 195.9 174.4 212.4 156.6 226.1 142.9 235.6 131.9 240.6 125.1 248.1 113.9 249.6 110.4 249.6 109.1Z" fill="#fcff00"/>
<path d="M248.4 108.1 247.9 107.9 244.9 107.9 242.6 108.4 237.9 110.1 223.1 117.9 213.4 124.1 201.6 132.6 188.1 143.6 174.1 156.1 164.1 166.1 156.1 175.6 150.9 183.4 144.6 195.4 141.4 202.9 139.6 208.9 139.4 214.1 139.9 216.1 140.9 218.1 143.1 220.4 144.9 221.4 147.6 221.9 149.6 221.4 152.6 219.6 155.9 216.4 163.6 206.6 169.9 199.9 195.4 174.6 212.1 156.6 225.6 143.1 230.9 137.4 235.1 132.1 240.6 124.6 240.9 123.9 247.1 114.9 249.1 110.9 249.1 109.1Z" fill="#ffff00"/>
<path d="M247.6 108.4 244.4 108.4 237.9 110.4 222.6 118.4 213.4 124.4 199.4 134.6 183.4 147.9 174.9 155.6 163.9 166.6 156.9 174.9 152.1 181.6 148.9 187.1 141.9 202.1 140.1 207.6 139.6 212.9 140.4 216.1 141.4 217.9 142.9 219.6 144.9 220.9 146.4 221.4 148.1 221.4 149.1 221.1 152.6 219.1 155.6 216.1 162.6 207.4 168.9 200.6 194.6 175.1 211.9 156.6 225.4 143.1 230.6 137.4 236.4 130.1 246.9 114.6 248.9 110.4 248.6 109.1Z" fill="#ffff00"/>
<path d="M247.9 109.1 247.4 108.9 243.9 108.9 237.4 110.9 231.1 113.9 222.1 118.9 212.6 125.1 198.4 135.6 183.9 147.6 170.9 159.6 163.6 167.1 157.6 174.1 152.9 180.6 148.4 188.4 141.9 202.6 140.1 209.1 140.1 213.6 141.6 217.4 143.4 219.4 144.9 220.4 146.4 220.9 148.4 220.9 152.6 218.6 155.1 216.1 161.9 207.9 167.6 201.6 194.4 175.1 211.9 156.4 225.1 143.1 231.4 136.1 238.4 126.9 241.9 121.1 247.4 113.1 248.4 110.6Z" fill="#ffff00"/>
<path d="M246.9 109.4 243.6 109.4 237.6 111.1 227.4 116.1 221.6 119.4 215.9 123.1 202.6 132.6 193.6 139.6 182.6 148.9 166.4 164.4 157.4 174.6 152.9 180.9 149.4 186.9 143.6 198.9 142.1 202.6 140.6 207.6 140.4 213.1 141.9 216.9 144.1 219.4 146.1 220.4 148.4 220.4 150.4 219.6 153.1 217.6 161.4 208.4 162.4 206.9 171.6 197.1 194.4 174.9 211.9 156.1 225.1 142.9 231.1 136.1 237.4 127.9 243.4 118.1 246.9 113.1 247.6 111.4 247.6 109.9Z" fill="#ffff00"/>
<path d="M246.9 110.4 245.9 109.9 243.6 109.9 241.1 110.4 236.6 111.9 226.9 116.6 221.6 119.6 215.1 123.9 198.6 135.9 187.9 144.6 174.1 156.9 164.9 166.1 159.4 172.4 152.9 181.1 149.4 187.1 144.1 198.1 141.6 204.6 140.6 209.1 140.6 212.6 141.4 215.1 142.4 216.9 143.9 218.6 146.1 219.9 148.6 219.9 150.9 218.9 153.4 216.9 161.6 207.4 170.9 197.6 194.4 174.6 211.9 155.9 225.1 142.6 229.9 137.4 235.9 129.6 246.1 113.4 246.9 111.6Z" fill="#ffff00"/>
<path d="M245.6 110.9 244.9 110.6 241.4 110.9 236.9 112.1 235.6 112.9 232.6 113.9 222.4 119.4 214.4 124.6 197.6 136.9 183.6 148.4 175.1 156.1 164.4 166.9 157.1 175.4 152.9 181.4 148.1 189.9 148.1 190.4 145.1 196.4 142.6 202.4 141.1 207.6 140.9 212.1 141.4 214.1 142.4 216.1 144.6 218.6 146.1 219.4 148.6 219.4 150.9 218.4 153.9 215.9 160.9 207.9 170.4 197.9 180.9 187.9 194.6 174.1 212.1 155.4 225.1 142.4 229.6 137.4 233.4 132.6 238.9 124.6 245.6 112.9 245.9 112.1Z" fill="#ffff00"/>
<path d="M244.4 111.6 242.1 111.4 241.9 111.6 239.1 111.9 231.6 114.6 223.6 118.9 213.6 125.4 197.9 136.9 184.1 148.1 171.4 159.9 164.1 167.4 156.9 175.9 152.9 181.6 147.4 191.9 142.6 202.9 141.4 207.4 141.1 211.9 141.6 213.9 142.4 215.4 144.1 217.6 146.4 218.9 148.6 218.9 151.9 217.1 169.9 198.1 180.4 188.1 194.6 173.9 212.1 155.1 225.1 142.1 231.4 134.9 237.9 125.6 241.6 119.1 244.6 113.1 244.6 111.9Z" fill="#ffff00"/>
<path d="M243.4 112.6 242.9 112.4 238.1 112.6 231.1 115.1 221.1 120.6 212.9 126.1 198.1 136.9 184.6 147.9 172.9 158.6 167.4 164.1 158.6 173.9 152.9 181.9 149.9 187.1 144.6 198.4 141.9 206.1 141.6 208.9 141.4 209.1 141.4 211.6 142.4 214.6 144.9 217.6 146.4 218.4 148.6 218.4 151.9 216.6 169.4 198.4 180.1 188.1 194.9 173.4 206.9 160.4 225.1 141.9 230.4 135.9 236.6 127.1 241.6 118.1 243.4 113.9Z" fill="#fff000"/>
<path d="M242.1 113.4 241.6 113.1 238.1 113.1 232.4 114.9 227.6 117.1 221.9 120.4 212.9 126.4 198.4 136.9 183.6 148.9 180.1 152.4 174.4 157.4 165.4 166.4 158.4 174.4 154.1 180.1 149.6 187.9 144.4 199.4 142.6 204.1 141.6 208.9 141.6 211.4 142.1 213.1 143.1 215.1 144.4 216.6 146.4 217.9 148.4 217.9 150.4 217.1 152.1 215.9 168.9 198.6 179.6 188.4 194.9 173.1 207.4 159.6 225.1 141.6 230.1 135.9 235.4 128.6 239.4 121.9 241.1 118.1 242.4 114.4Z" fill="#ffe000"/>
<path d="M240.9 113.9 238.4 113.6 238.1 113.9 235.6 114.1 230.1 116.1 221.9 120.6 212.1 127.1 197.4 137.9 184.1 148.6 175.4 156.6 164.9 167.1 158.1 174.9 154.1 180.4 151.1 185.4 147.9 191.9 147.9 192.4 144.4 199.9 142.1 206.9 141.9 211.1 143.1 214.4 145.1 216.6 146.6 217.4 148.4 217.4 151.1 216.1 152.4 215.1 172.4 194.9 179.4 188.4 194.9 172.9 208.1 158.6 225.1 141.4 231.6 133.6 235.1 128.6 236.6 125.6 237.9 123.9 240.9 117.4 241.4 114.6Z" fill="#ffcf00"/>
<path d="M239.6 114.4 235.1 114.6 229.6 116.6 221.9 120.9 209.6 129.1 197.6 137.9 184.6 148.4 171.9 160.1 164.6 167.6 157.9 175.4 154.1 180.6 150.6 186.6 144.9 199.1 142.9 204.6 142.1 208.6 142.1 210.9 142.6 212.6 143.4 214.1 144.6 215.6 146.1 216.6 148.4 216.9 150.6 215.9 152.4 214.6 172.1 194.9 187.4 180.4 208.6 157.9 221.9 144.6 228.6 137.1 235.1 128.1 239.9 118.9 240.4 117.1 240.4 114.9Z" fill="#ffbe00"/>
<path d="M239.1 115.1 238.6 114.9 234.4 115.1 229.6 116.9 221.9 121.1 208.9 129.9 197.9 137.9 183.1 149.9 173.4 158.9 164.4 168.1 158.9 174.4 154.1 180.9 149.9 188.4 145.4 198.4 142.9 205.4 142.6 208.1 142.4 208.4 142.4 210.6 142.9 212.4 143.9 214.1 145.4 215.6 146.9 216.4 148.1 216.4 150.6 215.4 152.4 214.1 172.1 194.6 187.6 179.9 210.1 156.1 222.1 144.1 229.6 135.6 235.1 127.6 238.9 120.4 239.6 118.1 239.9 116.4Z" fill="#ffad00"/>
<path d="M238.9 115.9 237.6 115.4 234.9 115.4 229.1 117.4 221.1 121.9 213.1 127.1 198.1 137.9 185.4 148.1 174.4 158.1 167.1 165.4 159.9 173.4 155.1 179.6 151.6 185.4 148.6 191.4 144.9 200.1 142.9 206.4 142.9 208.1 142.6 208.4 142.9 211.4 143.6 213.1 145.1 214.9 147.1 215.9 149.1 215.6 151.4 214.4 154.6 211.6 187.6 179.6 203.6 162.6 222.1 143.9 228.4 136.9 234.1 128.9 238.4 120.6 239.1 118.1Z" fill="#ff9c00"/>
<path d="M237.9 116.1 237.4 115.9 234.1 115.9 229.1 117.6 222.4 121.4 208.1 130.9 193.9 141.4 184.1 149.4 175.4 157.4 165.9 166.9 158.6 175.1 154.1 181.4 151.1 186.6 146.4 196.9 143.4 205.1 143.1 207.9 142.9 208.1 142.9 210.1 143.9 212.9 145.6 214.6 147.4 215.4 149.1 215.1 151.4 213.9 154.1 211.6 186.4 180.6 210.9 154.9 222.1 143.6 230.1 134.4 234.1 128.4 236.6 123.1 237.1 122.6 238.4 119.4 238.6 117.1Z" fill="#ff8b00"/>
<path d="M237.4 116.6 236.1 116.1 234.6 116.1 232.4 116.6 228.6 118.1 222.4 121.6 208.1 131.1 194.1 141.4 184.6 149.1 175.9 157.1 165.4 167.6 158.4 175.6 153.4 182.9 148.9 191.6 148.1 193.9 146.4 197.4 144.4 203.4 143.9 204.1 143.1 207.9 143.4 211.1 144.4 212.9 145.6 214.1 147.6 214.9 149.1 214.6 150.6 213.9 153.6 211.6 186.4 180.4 203.9 161.9 222.1 143.4 229.9 134.4 234.1 127.9 237.9 119.9 238.1 117.6Z" fill="#ff7a00"/>
<path d="M237.1 117.1 236.1 116.6 233.6 116.6 230.4 117.6 222.4 121.9 208.1 131.4 206.4 132.9 198.6 138.1 184.9 149.1 176.4 156.9 165.4 167.9 158.4 175.9 153.9 182.4 149.6 190.4 148.9 192.6 146.9 196.6 143.9 204.9 143.6 207.4 143.4 207.6 143.6 210.9 145.4 213.4 146.6 214.1 149.1 214.1 152.1 212.4 156.1 208.9 186.4 180.1 203.6 161.9 221.9 143.4 229.6 134.4 233.1 129.1 237.1 120.9 237.6 119.1 237.6 118.1Z" fill="#ff6a00"/>
<path d="M236.6 117.4 235.4 116.9 232.9 117.1 229.9 118.1 225.9 120.1 214.6 127.1 199.6 137.6 185.1 149.1 176.9 156.6 165.4 168.1 159.6 174.6 155.9 179.6 152.6 184.9 149.4 191.4 148.9 193.1 146.9 197.1 143.9 205.9 143.6 209.6 143.9 210.6 145.1 212.6 146.6 213.6 149.1 213.6 151.1 212.6 160.6 204.4 178.6 187.4 193.6 172.4 203.4 161.9 221.6 143.4 229.1 134.6 233.1 128.6 236.9 120.6 237.1 118.1Z" fill="#ff5a00"/>
<path d="M236.4 117.9 235.6 117.4 233.1 117.4 229.9 118.4 226.4 120.1 216.6 126.1 199.6 137.9 185.1 149.4 176.9 156.9 165.6 168.1 158.6 176.1 154.1 182.6 147.9 195.4 144.4 204.9 144.1 207.4 143.9 207.6 144.1 210.4 144.6 211.4 146.1 212.9 149.1 213.1 151.9 211.6 165.1 199.9 179.1 186.6 192.9 172.9 200.1 164.9 221.4 143.4 228.9 134.6 232.4 129.4 236.6 120.1Z" fill="#ff4900"/>
<path d="M235.9 118.1 234.9 117.6 232.4 117.9 227.4 119.9 215.1 127.4 206.1 133.9 200.4 137.6 184.9 149.9 176.4 157.6 166.1 167.9 160.1 174.6 156.9 178.9 153.6 183.9 149.6 191.9 149.1 193.6 146.9 198.4 144.4 205.9 144.4 207.9 144.1 208.1 144.4 210.1 145.9 212.1 146.9 212.6 149.1 212.6 150.4 212.1 152.9 210.4 163.1 201.4 179.6 185.9 192.1 173.4 207.4 157.1 220.6 143.9 227.1 136.4 231.6 130.1 233.6 126.4 234.1 124.6 236.1 120.4Z" fill="#ff3900"/>
<path d="M235.4 118.4 234.9 118.1 231.9 118.4 226.6 120.6 214.9 127.9 205.9 134.4 200.1 138.1 186.1 149.1 174.9 159.4 168.6 165.6 162.1 172.6 157.9 177.9 153.6 184.4 150.1 191.4 149.6 193.1 148.6 194.9 146.6 199.9 144.6 206.1 144.6 209.6 145.9 211.6 146.9 212.1 149.1 212.1 150.4 211.6 152.9 209.9 162.4 201.6 178.1 186.9 193.1 171.9 196.6 167.9 216.1 147.9 219.4 144.9 226.4 136.9 231.1 130.4 233.1 126.6 235.4 121.4 235.9 119.6Z" fill="#ff2900"/>
<path d="M234.6 118.6 231.6 118.9 226.1 121.4 215.1 128.1 206.1 134.6 199.6 138.9 185.1 150.4 176.6 158.1 166.6 168.1 160.4 175.1 157.9 178.4 154.4 183.6 150.4 191.6 147.6 198.1 145.1 205.4 144.9 209.1 145.4 210.4 146.4 211.4 149.1 211.6 152.1 209.9 168.1 195.9 186.4 178.4 197.1 166.9 219.9 143.9 227.4 135.1 231.1 129.6 232.6 126.9 235.1 120.6 235.1 119.1Z" fill="#ff1800"/>
<path d="M234.1 119.1 230.9 119.6 224.1 123.1 214.9 128.9 205.9 135.4 200.4 138.9 186.4 149.9 175.1 160.1 169.4 165.9 159.1 177.4 154.9 183.6 153.4 186.4 148.6 196.9 146.4 203.1 146.4 203.9 145.9 204.6 145.4 206.9 145.4 208.6 146.1 210.4 146.9 210.9 149.1 210.9 150.6 210.1 153.4 208.1 164.1 198.9 178.9 185.1 191.4 172.6 198.4 164.9 209.1 153.9 213.6 149.6 222.6 140.1 228.1 133.4 232.1 126.6 234.6 120.1Z" fill="#ff0800"/>
<path d="M233.6 120.1 233.1 119.9 231.6 120.1 227.1 122.1 216.1 128.9 206.6 135.6 200.4 139.6 186.4 150.6 170.9 165.1 160.9 176.1 155.1 184.4 151.6 191.4 147.1 202.9 147.1 203.6 146.1 206.1 146.1 208.9 147.1 210.1 148.9 210.1 151.6 208.6 158.9 202.6 171.4 191.4 192.1 170.9 202.6 159.6 219.1 143.1 225.1 136.1 228.9 131.1 231.4 126.6 232.1 124.1 233.4 121.6Z" fill="#ff0000"/></g>
<g clip-path="url(#cb)"><path d="M606.1 74.1 604.6 72.6 602.4 71.6 601.1 71.6 600.9 71.4 597.6 71.6 590.6 74.1 578.1 80.6 570.9 85.4 564.1 89.1 557.9 93.4 543.9 104.9 536.4 112.1 532.9 114.9 511.1 135.9 507.4 139.1 481.1 165.4 465.9 179.4 459.4 184.9 442.6 201.1 434.6 209.9 431.6 213.6 426.1 219.4 422.1 224.6 420.4 228.1 418.6 235.6 418.9 240.9 419.9 243.9 421.6 246.9 424.9 249.6 429.1 251.4 435.9 251.6 436.1 251.4 439.4 251.1 442.1 250.1 443.9 249.9 456.4 244.1 457.6 243.1 461.6 241.4 470.1 236.1 472.4 235.1 479.1 229.9 484.6 225.1 496.1 213.6 499.1 209.9 503.6 205.4 510.9 196.9 526.9 180.4 547.9 157.9 562.1 141.9 574.6 126.9 587.6 109.4 594.1 101.6 597.1 96.9 599.6 91.4 600.6 90.4 600.9 89.6 602.6 87.4 603.1 86.1 603.9 85.4 605.1 81.9 605.9 80.6 606.4 78.4Z" fill="#0f34ea"/>
<path d="M604.6 74.9 603.4 73.6 600.6 72.6 597.6 72.6 593.6 73.4 590.1 74.4 578.1 80.6 570.9 85.4 564.1 89.1 557.9 93.4 543.9 104.9 536.4 112.1 532.9 114.9 528.1 119.6 524.6 122.6 511.1 135.9 507.4 139.1 481.1 165.4 465.9 179.4 459.4 184.9 449.1 194.6 436.6 207.6 431.9 213.6 428.9 216.9 423.6 224.1 421.9 227.9 420.6 233.1 420.4 239.1 421.4 242.4 423.4 245.9 425.4 247.6 428.4 249.1 432.1 250.1 439.6 249.9 444.1 248.9 451.9 246.4 456.4 244.1 457.6 243.1 461.6 241.4 470.1 236.1 472.4 235.1 479.1 229.9 484.6 225.1 496.1 213.6 499.1 209.9 503.6 205.4 510.9 196.9 526.9 180.4 547.9 157.9 562.1 141.9 574.6 126.9 587.6 109.4 594.9 100.6 597.1 96.9 599.6 91.4 602.6 87.4 604.1 84.1 605.1 79.6 605.1 76.1Z" fill="#0b37ed"/>
<path d="M602.9 75.6 601.9 74.9 600.4 74.4 597.4 74.4 597.1 74.6 593.1 75.1 589.9 76.1 578.1 81.6 568.6 87.1 561.4 91.9 550.9 100.4 543.9 106.4 536.9 113.1 532.6 116.6 511.4 136.9 490.9 157.6 476.9 170.9 457.1 188.6 444.1 201.6 429.9 218.1 425.1 224.9 423.6 228.1 422.9 231.1 422.9 232.4 422.4 234.1 422.4 238.6 423.1 241.1 425.1 244.6 427.4 246.4 429.4 247.4 433.9 248.4 439.6 248.1 446.9 246.4 454.6 243.6 456.9 242.4 460.4 241.1 467.1 237.6 472.9 234.1 483.1 225.9 494.9 214.4 496.9 211.9 506.4 202.1 510.9 196.9 526.9 180.4 547.9 157.9 560.4 143.9 569.6 132.6 586.4 110.1 593.1 102.4 597.1 96.4 598.9 92.9 599.4 91.1 600.4 89.4 602.4 84.4 603.4 79.9 603.4 76.9Z" fill="#0839ef"/>
<path d="M601.6 77.1 600.9 76.4 599.6 75.9 595.9 75.9 589.4 77.4 578.6 82.4 565.1 90.4 557.4 96.1 545.9 105.9 524.4 125.6 511.4 138.1 484.1 165.4 456.9 190.1 446.4 200.6 436.6 211.6 429.6 220.4 427.1 224.1 425.1 228.4 424.4 232.1 424.4 233.9 424.1 234.1 424.1 237.4 424.9 240.1 426.4 242.9 427.6 244.1 430.4 245.6 434.1 246.6 441.9 246.4 449.6 244.4 459.9 240.4 466.6 236.9 472.4 233.4 478.9 228.4 483.1 224.6 495.9 211.9 510.4 196.1 538.6 166.6 555.9 147.6 567.9 133.4 586.4 108.6 590.1 104.6 593.1 100.9 596.4 95.9 600.1 87.6 601.6 82.4 601.6 80.6 601.9 80.4Z" fill="#053def"/>
<path d="M599.9 78.1 598.6 77.4 593.1 77.4 588.4 78.6 576.9 84.1 568.4 89.1 564.1 91.9 556.1 98.1 545.6 107.1 539.1 113.4 531.4 120.1 514.9 135.9 493.6 157.4 475.9 174.1 459.1 189.1 446.6 201.6 439.1 210.1 431.4 219.9 427.4 226.6 426.1 231.1 426.1 237.4 427.6 241.1 429.9 243.1 431.9 244.1 434.6 244.9 440.6 245.1 449.6 243.4 458.6 240.1 466.1 236.4 472.6 232.4 481.6 225.1 493.9 213.1 496.1 210.4 501.9 204.6 516.6 188.6 529.4 175.6 550.1 153.1 565.6 135.1 572.1 126.9 575.9 121.4 585.1 109.1 592.1 101.1 595.6 95.9 598.6 89.4 600.1 84.6 600.4 79.4Z" fill="#0345ed"/>
<path d="M598.6 79.6 596.9 78.6 591.4 78.6 587.9 79.6 575.9 85.4 566.4 91.1 558.4 97.1 547.9 106.1 526.6 125.6 520.1 132.1 515.1 136.6 492.9 159.1 478.9 172.4 458.1 191.1 446.6 202.9 438.4 212.4 431.4 221.9 428.4 228.1 427.9 230.4 427.9 235.9 428.4 238.1 429.9 240.6 433.4 242.6 436.6 243.4 438.6 243.4 438.9 243.6 444.4 243.4 453.4 241.4 456.1 240.1 459.4 239.1 465.9 235.9 470.9 232.9 474.4 230.4 482.1 223.9 501.1 204.6 516.4 188.1 536.4 167.4 551.9 150.4 565.1 134.9 585.4 107.9 589.4 103.6 592.4 99.9 595.1 95.6 596.9 92.1 598.9 86.4 599.1 81.6Z" fill="#014eec"/>
<path d="M597.4 80.9 596.6 80.1 594.4 79.6 590.9 79.6 586.6 80.9 580.1 84.1 579.6 84.1 570.6 89.1 565.9 92.1 559.1 97.4 546.1 108.6 539.6 114.9 532.1 121.4 520.1 133.1 515.6 137.1 492.6 160.4 478.9 173.4 461.6 188.9 450.4 200.1 444.6 206.4 439.1 212.9 435.4 217.9 432.4 222.4 430.9 225.4 429.6 229.4 429.4 232.9 430.1 236.9 431.1 238.9 433.1 240.4 434.9 241.1 439.4 242.1 444.9 242.1 453.9 240.4 460.1 238.1 468.6 233.6 475.1 229.1 482.1 223.1 501.4 203.6 517.9 185.9 530.4 173.1 548.4 153.6 563.9 135.6 571.9 125.4 575.9 119.4 583.9 108.9 592.1 99.4 594.9 95.1 596.4 92.1 597.9 87.6 598.1 83.9Z" fill="#0060ed"/>
<path d="M596.4 82.1 595.6 81.4 593.4 80.6 588.9 80.9 581.6 83.9 574.6 87.4 565.9 92.9 560.1 97.4 532.6 121.9 520.6 133.6 516.1 137.6 492.6 161.4 479.1 174.1 461.4 190.1 446.6 205.4 438.4 215.4 434.9 220.4 432.6 224.4 431.1 229.6 431.1 232.9 431.6 235.1 432.6 237.4 434.1 238.6 436.1 239.6 441.1 240.9 446.1 240.9 446.4 240.6 448.4 240.6 453.6 239.6 459.1 237.9 465.9 234.6 472.9 230.1 481.6 222.9 502.9 201.4 515.6 187.6 529.1 173.9 549.4 151.9 563.9 134.9 570.9 125.9 574.1 120.9 584.4 107.4 589.1 102.4 591.9 98.9 595.6 92.6 597.1 88.1 597.1 84.1Z" fill="#0075ef"/>
<path d="M595.4 82.9 593.9 81.9 591.9 81.4 590.1 81.4 587.9 81.9 580.9 84.9 574.9 87.9 565.1 94.1 556.1 101.6 528.9 126.4 522.9 132.4 518.4 136.4 493.9 161.1 477.6 176.4 467.6 185.1 455.4 197.1 446.4 206.9 437.9 217.6 435.6 221.1 433.6 225.1 432.9 227.9 432.6 230.9 432.9 231.1 432.9 232.9 434.1 235.9 435.1 236.9 437.6 238.4 441.9 239.6 448.9 239.6 449.1 239.4 453.6 238.9 459.9 236.9 463.4 235.1 463.9 235.1 472.4 229.9 480.4 223.4 492.1 211.9 495.9 207.6 527.9 174.6 548.4 152.4 564.1 133.9 570.6 125.4 574.4 119.6 584.4 106.6 589.1 101.6 594.4 94.1 595.6 91.4 596.6 87.9 596.4 84.9Z" fill="#0089f1"/>
<path d="M595.1 84.1 593.9 82.9 591.6 82.1 589.4 82.1 587.4 82.6 578.4 86.9 577.9 86.9 571.6 90.4 566.4 93.9 561.4 97.9 533.4 122.9 521.4 134.6 517.4 138.1 492.9 162.9 463.6 189.9 455.1 198.4 448.9 205.1 440.6 215.1 437.4 219.9 435.6 223.1 434.4 226.4 434.4 227.9 434.1 228.1 434.1 230.9 434.6 232.9 435.4 234.4 438.1 236.9 442.1 238.4 443.4 238.6 449.9 238.6 450.1 238.4 453.6 238.1 454.6 237.6 458.9 236.6 463.6 234.6 472.9 228.9 479.4 223.6 492.4 210.9 525.6 176.4 547.4 152.9 557.6 141.1 567.9 128.4 573.6 119.9 583.4 107.1 588.4 101.9 591.6 97.6 593.9 94.1 595.9 89.1 596.1 87.1 595.9 86.9 595.9 85.6Z" fill="#009bf2"/>
<path d="M594.9 84.9 593.4 83.4 591.1 82.6 588.4 82.9 581.1 85.9 572.1 90.6 566.9 94.1 561.6 98.4 534.1 122.9 522.9 133.9 518.9 137.4 494.6 161.9 464.4 189.9 455.9 198.4 448.4 206.6 439.9 217.4 437.6 220.9 435.9 224.6 435.4 226.4 435.1 229.6 435.6 231.9 436.9 234.1 439.4 236.1 443.9 237.6 446.1 237.6 446.4 237.9 451.6 237.6 457.4 236.4 462.1 234.6 466.9 232.1 472.4 228.6 478.6 223.6 500.1 202.4 529.1 172.1 546.6 153.1 556.9 141.4 565.6 130.6 578.6 112.4 583.9 105.9 587.6 102.1 591.1 97.6 593.4 94.1 595.1 90.1 595.6 87.1Z" fill="#00adf4"/>
<path d="M594.4 85.1 593.1 83.9 590.9 83.1 587.4 83.6 581.6 86.1 572.6 90.9 566.4 95.1 560.6 99.9 532.9 124.6 521.1 136.1 517.1 139.6 496.9 160.4 477.4 178.6 470.1 184.9 462.6 192.1 450.6 204.9 441.1 216.6 438.6 220.4 437.4 222.9 436.1 226.6 436.1 229.6 436.4 230.9 437.4 232.9 439.1 234.6 440.9 235.6 442.9 236.4 445.6 236.6 445.9 236.9 452.9 236.6 457.4 235.6 462.9 233.6 467.9 230.9 472.9 227.6 479.9 221.9 504.1 197.6 528.4 172.4 548.4 150.6 556.4 141.4 565.9 129.6 573.6 118.4 578.9 111.4 583.4 105.9 587.1 102.1 590.6 97.6 592.9 94.1 594.6 90.4 595.1 88.4 595.1 86.9Z" fill="#00bef6"/>
<path d="M594.1 85.6 592.9 84.4 591.9 83.9 589.1 83.6 583.1 85.9 573.9 90.6 566.9 95.4 561.4 99.9 534.6 123.6 529.4 128.9 520.4 137.1 496.1 161.6 477.1 179.4 472.4 183.4 454.9 200.9 449.4 207.1 442.4 215.9 438.9 221.1 437.6 223.9 436.9 227.1 437.1 229.9 438.1 232.1 439.9 233.9 444.1 235.6 445.4 235.6 445.6 235.9 451.9 235.9 452.1 235.6 456.1 235.1 461.6 233.4 465.4 231.6 472.4 227.4 478.6 222.4 503.1 198.1 527.9 172.4 547.6 150.9 555.6 141.6 566.1 128.6 572.6 119.1 578.4 111.4 583.1 105.6 586.9 101.9 590.1 97.6 593.9 91.4 594.6 88.6 594.6 86.9Z" fill="#00cdf8"/>
<path d="M593.6 85.6 592.9 84.9 591.4 84.1 588.6 84.1 582.4 86.6 574.4 90.9 566.1 96.6 559.1 102.4 534.1 124.6 523.9 134.6 519.9 138.1 496.4 161.9 477.1 179.9 472.4 183.9 459.1 196.9 452.1 204.6 442.1 217.1 438.9 222.4 437.9 225.6 437.9 228.9 439.1 231.6 441.6 233.6 445.9 234.9 452.6 234.9 452.9 234.6 456.9 234.1 463.4 231.9 469.4 228.6 474.1 225.4 480.6 219.9 501.1 199.6 527.1 172.6 547.1 150.9 556.4 140.1 563.9 130.9 578.1 111.1 583.1 105.1 586.4 101.9 590.4 96.6 592.1 93.9 593.9 90.1 594.1 86.6Z" fill="#00ddfa"/>
<path d="M593.4 86.1 591.4 84.6 589.9 84.4 587.4 84.9 577.9 89.4 573.6 91.9 565.6 97.6 558.4 103.6 533.4 125.9 523.6 135.4 519.6 138.9 497.4 161.4 483.9 174.1 472.9 183.9 457.6 199.1 448.6 209.6 446.4 212.9 442.6 217.4 440.1 221.1 439.4 222.6 438.6 225.4 438.6 227.9 439.9 230.9 441.1 232.1 443.1 233.1 448.1 234.1 453.4 233.9 458.4 232.9 463.4 231.1 470.4 227.4 476.1 223.1 483.1 216.9 510.1 189.9 513.9 185.6 526.1 173.1 551.6 145.1 563.4 130.9 578.6 109.9 583.1 104.6 586.1 101.6 589.4 97.4 592.4 92.6 593.4 90.4 593.9 88.1Z" fill="#00e9fc"/>
<path d="M592.9 86.1 591.6 85.1 590.6 84.9 588.9 84.9 585.1 86.1 577.4 90.1 568.4 96.1 559.6 103.1 545.6 115.4 520.4 138.6 498.6 160.6 484.6 173.9 473.6 183.6 458.6 198.6 453.1 204.9 448.9 210.1 446.9 213.1 443.6 216.9 439.9 222.9 439.4 224.9 439.4 227.1 440.6 230.1 442.9 231.9 444.9 232.6 447.4 232.9 447.6 233.1 454.6 232.9 462.1 230.9 468.9 227.6 472.4 225.4 478.1 220.9 484.9 214.6 509.9 189.6 532.4 165.9 549.9 146.6 564.6 128.6 570.9 119.6 578.4 109.6 585.9 101.4 588.4 98.1 590.9 94.4 592.9 90.6 593.4 88.9 593.4 87.1Z" fill="#00f6fe"/>
<path d="M592.6 86.6 591.6 85.6 590.9 85.4 588.4 85.4 586.1 86.1 576.9 90.9 569.9 95.6 559.1 104.1 545.6 115.9 521.1 138.4 500.6 159.1 486.1 172.9 474.6 183.1 459.1 198.6 449.9 209.6 447.1 213.6 444.6 216.4 441.1 221.6 440.1 224.1 440.1 226.6 441.6 229.6 444.4 231.4 447.6 232.1 455.6 231.9 462.1 230.1 469.1 226.9 471.9 225.1 478.6 219.9 485.1 213.9 517.1 181.6 538.4 158.9 549.6 146.4 562.6 130.6 577.4 110.4 585.9 100.9 590.9 93.6 592.6 90.1 592.9 89.1Z" fill="#00fcfe"/>
<path d="M592.1 86.6 591.1 85.9 589.1 85.6 585.1 86.9 580.1 89.4 575.1 92.4 569.9 96.1 560.9 103.1 546.1 115.9 522.1 137.9 506.9 153.4 487.6 171.9 473.4 184.6 459.4 198.9 452.4 207.1 447.9 213.4 444.1 217.9 441.9 221.4 440.9 223.6 440.9 226.4 442.1 228.6 444.6 230.4 447.4 231.1 449.9 231.1 450.1 231.4 455.6 231.1 463.1 229.1 469.9 225.9 472.1 224.4 478.9 219.1 484.9 213.6 517.6 180.6 538.6 158.1 549.6 145.9 561.6 131.4 577.4 109.9 585.6 100.6 588.4 96.9 591.9 90.9 592.4 89.4 592.4 87.1Z" fill="#00fdfc"/>
<path d="M591.9 87.1 591.1 86.4 590.4 86.1 588.6 86.1 585.4 87.1 579.9 89.9 574.6 93.1 566.1 99.4 559.6 104.6 550.4 112.9 545.1 117.1 520.9 139.4 501.1 159.4 486.6 173.1 474.9 183.6 461.4 197.1 453.6 206.1 443.4 219.9 442.1 221.9 441.4 223.9 441.4 225.4 442.1 227.1 443.9 228.9 445.4 229.6 448.1 230.4 454.1 230.6 460.6 229.4 464.9 227.9 470.4 225.1 478.6 218.9 484.1 213.9 507.6 190.6 511.6 186.1 519.1 178.6 533.9 162.9 549.9 145.1 561.6 130.9 576.6 110.4 585.6 100.1 589.1 95.1 591.6 90.4 592.1 88.6Z" fill="#00fdf9"/>
<path d="M591.4 87.4 590.4 86.6 588.1 86.6 584.4 87.9 577.1 91.9 569.6 97.1 560.4 104.4 546.1 116.6 522.9 137.9 508.1 152.9 488.9 171.4 474.4 184.4 460.9 198.1 453.9 206.4 443.9 219.9 441.9 224.1 441.9 224.9 442.6 226.6 443.9 227.9 446.1 229.1 449.4 229.9 453.9 230.1 454.1 229.9 456.4 229.9 460.9 228.9 463.9 227.9 470.1 224.9 478.1 218.9 482.9 214.6 516.9 180.6 548.9 145.9 562.6 129.1 576.9 109.6 586.1 98.9 588.9 94.9 590.9 91.1 591.6 88.9Z" fill="#00fdf7"/>
<path d="M590.9 87.6 590.1 87.1 587.9 87.1 582.9 88.9 576.9 92.4 568.4 98.4 559.9 105.1 550.6 113.4 545.6 117.4 522.1 138.9 507.4 153.9 488.4 172.1 474.1 184.9 461.9 197.4 453.9 206.9 444.4 219.9 442.6 223.1 442.6 225.4 443.4 226.6 446.4 228.6 451.4 229.6 455.4 229.6 462.1 228.1 467.6 225.9 471.1 223.9 477.4 219.1 484.1 213.1 514.4 182.9 533.6 162.4 548.1 146.4 562.1 129.4 577.1 108.9 585.4 99.4 588.6 94.6 590.6 90.6 591.1 88.9Z" fill="#00fef5"/>
<path d="M590.4 88.1 589.6 87.6 587.6 87.6 584.1 88.6 580.1 90.6 576.1 93.1 568.1 98.9 559.4 105.9 545.1 118.1 521.9 139.4 507.1 154.4 488.4 172.4 473.9 185.4 462.9 196.6 453.6 207.6 449.1 214.1 446.1 217.9 443.1 223.1 443.4 225.6 445.1 227.4 447.1 228.4 450.4 229.1 454.6 229.4 454.9 229.1 459.4 228.6 464.1 227.1 469.9 224.4 476.6 219.4 481.9 214.9 517.9 178.9 548.9 145.1 561.6 129.6 575.9 110.1 585.4 98.9 588.4 94.4 590.4 89.9Z" fill="#00fef3"/>
<path d="M589.6 88.6 588.9 88.1 585.9 88.4 583.6 89.1 580.1 90.9 574.4 94.6 566.9 100.1 559.1 106.4 542.9 120.4 521.9 139.6 506.9 154.9 488.6 172.4 476.4 183.4 461.4 198.6 455.1 206.1 445.4 219.6 443.6 223.1 443.6 224.9 444.4 226.1 447.1 227.9 451.1 228.9 456.6 228.9 461.1 227.9 466.4 225.9 470.6 223.6 478.1 217.9 482.6 213.9 516.9 179.6 548.4 145.4 561.1 129.9 576.4 109.1 584.6 99.4 588.9 92.6 589.9 89.4Z" fill="#00fff1"/>
<path d="M588.9 89.1 587.9 88.6 585.4 88.9 583.6 89.4 580.1 91.1 574.4 94.9 566.9 100.4 544.9 118.9 521.9 139.9 507.1 154.9 488.9 172.4 476.6 183.4 464.1 195.9 454.9 206.9 445.6 219.9 444.1 223.1 444.1 224.6 444.6 225.6 445.4 226.4 447.6 227.6 451.6 228.6 456.6 228.6 461.1 227.6 464.1 226.6 469.4 224.1 476.9 218.6 483.1 213.1 516.1 180.1 547.9 145.6 560.9 129.9 576.9 108.1 584.6 98.9 588.1 93.4 589.1 90.4Z" fill="#00ffee"/>
<path d="M588.4 89.9 587.9 89.4 586.1 89.1 581.9 90.4 575.1 94.6 566.9 100.6 564.1 103.1 560.6 105.6 540.9 122.6 522.4 139.6 507.4 154.9 485.9 175.4 474.1 185.9 464.4 195.9 454.4 207.9 446.6 218.9 444.6 223.1 444.6 224.4 445.1 225.4 447.4 227.1 451.9 228.4 456.6 228.4 460.4 227.6 464.1 226.4 469.4 223.9 476.9 218.4 483.4 212.6 515.9 180.1 547.6 145.6 561.4 128.9 574.9 110.4 583.9 99.4 586.9 94.9 588.1 92.4Z" fill="#00fcdb"/>
<path d="M587.6 90.1 586.6 89.6 585.1 89.6 582.4 90.4 578.9 92.4 568.1 99.9 564.1 103.4 559.1 107.1 543.1 120.9 522.9 139.4 508.1 154.4 486.6 174.9 474.9 185.4 464.4 196.1 455.6 206.6 446.9 219.1 445.1 223.1 445.4 224.9 446.6 226.1 448.4 227.1 452.1 228.1 456.9 228.1 461.4 227.1 467.1 224.9 470.6 222.9 476.9 218.1 483.6 212.1 515.4 180.4 547.4 145.6 561.1 128.9 576.4 108.1 583.4 99.6 587.4 93.1 587.9 91.4Z" fill="#00f8c4"/>
<path d="M587.1 90.6 586.4 90.1 583.9 90.1 582.4 90.6 578.9 92.6 568.1 100.1 563.1 104.4 560.9 105.9 545.4 119.1 523.6 138.9 501.1 161.4 487.9 173.9 475.9 184.6 464.4 196.4 455.1 207.6 447.4 218.9 445.9 222.1 445.6 223.1 445.9 224.6 447.4 226.1 449.4 227.1 452.1 227.9 457.1 227.9 457.4 227.6 459.9 227.4 464.4 225.9 468.6 223.9 471.4 222.1 478.4 216.6 483.6 211.9 515.1 180.4 547.1 145.6 561.1 128.6 576.1 108.1 583.4 99.1 586.9 93.4 587.4 91.6Z" fill="#00f4ad"/>
<path d="M586.6 91.1 585.6 90.4 583.9 90.4 580.9 91.6 572.9 96.9 567.1 101.1 564.4 103.6 559.4 107.4 541.9 122.4 524.6 138.1 502.4 160.4 482.4 179.1 476.6 184.1 464.1 196.9 455.4 207.6 447.9 218.6 446.6 221.1 446.1 222.9 446.1 223.9 446.6 224.9 447.4 225.6 449.6 226.9 454.4 227.9 459.1 227.4 463.9 225.9 469.1 223.4 472.1 221.4 478.4 216.4 483.6 211.6 515.1 180.1 546.9 145.6 560.9 128.6 568.4 118.1 582.6 99.6 586.6 93.1 586.9 91.9Z" fill="#00f096"/>
<path d="M586.1 91.4 585.6 90.9 584.1 90.6 580.4 92.1 568.4 100.4 563.4 104.6 561.1 106.1 546.1 118.9 525.4 137.6 499.1 163.6 486.4 175.6 477.4 183.6 463.9 197.4 455.6 207.6 450.9 214.4 447.1 220.9 446.6 222.4 446.9 224.4 448.1 225.6 449.9 226.6 454.1 227.6 459.4 227.1 461.1 226.4 462.6 226.1 466.4 224.6 471.1 221.9 476.6 217.6 483.4 211.6 515.4 179.6 546.9 145.4 561.6 127.4 574.1 110.1 582.6 99.1 586.1 93.4 586.4 92.4Z" fill="#00ed75"/>
<path d="M585.6 91.6 585.1 91.1 583.1 91.1 580.4 92.4 567.4 101.4 555.1 111.4 530.6 132.9 523.1 139.9 500.6 162.4 475.1 185.9 463.9 197.6 454.6 209.4 450.4 215.6 447.4 221.1 447.1 223.6 447.6 224.6 450.1 226.4 453.9 227.4 456.6 227.4 456.9 227.1 459.6 226.9 465.4 224.9 470.1 222.4 473.9 219.6 479.9 214.6 488.6 206.4 515.9 178.9 546.9 145.1 560.6 128.4 568.9 116.9 579.4 103.1 585.1 94.6 585.9 92.9Z" fill="#00ea53"/>
<path d="M585.4 92.1 584.6 91.4 583.1 91.4 577.6 94.4 568.6 100.6 553.9 112.6 541.6 123.1 524.6 138.6 502.4 160.9 485.9 176.4 476.9 184.4 465.1 196.4 455.4 208.6 451.1 214.9 448.1 220.1 447.6 221.4 447.6 223.6 449.4 225.6 451.6 226.6 453.9 227.1 457.1 227.1 457.4 226.9 459.9 226.6 466.1 224.4 469.4 222.6 474.9 218.6 479.6 214.6 487.9 206.9 516.4 178.1 546.9 144.9 560.6 128.1 568.1 117.6 577.1 105.9 585.1 93.9Z" fill="#02e83d"/>
<path d="M584.9 92.4 583.9 91.6 582.4 91.9 572.4 98.1 560.6 107.1 535.6 128.6 525.6 137.9 499.4 163.9 477.9 183.6 464.9 196.9 456.1 207.9 451.4 214.9 448.4 220.4 447.9 221.9 447.9 222.9 448.4 224.1 449.6 225.4 453.6 226.9 459.1 226.6 466.4 224.1 469.1 222.6 474.6 218.6 479.4 214.6 487.1 207.4 516.9 177.4 545.6 146.1 560.6 127.9 567.4 118.4 577.6 104.9 583.9 95.4 584.9 93.4Z" fill="#06e835"/>
<path d="M584.4 92.6 583.9 92.1 582.6 92.1 576.9 95.4 571.6 98.9 564.1 104.9 561.1 106.9 536.6 127.9 524.1 139.4 501.6 161.9 476.1 185.4 464.4 197.6 455.6 208.9 451.6 214.9 449.1 219.4 448.4 221.4 448.4 223.1 448.9 224.1 449.9 225.1 453.6 226.6 459.4 226.4 465.4 224.4 469.6 222.1 473.1 219.6 481.1 212.9 486.4 207.9 517.4 176.6 534.1 158.6 547.1 144.1 560.6 127.6 568.6 116.4 578.1 103.9 583.9 94.6Z" fill="#09e82e"/>
<path d="M583.6 92.9 582.4 92.6 579.9 93.9 570.1 100.1 564.4 104.9 560.1 107.9 541.9 123.4 525.4 138.4 498.9 164.6 477.6 184.1 465.6 196.4 456.4 208.1 452.6 213.6 449.1 220.1 448.6 221.6 448.6 222.6 449.1 223.9 450.1 224.9 453.9 226.4 458.4 226.4 465.6 224.1 469.4 222.1 472.9 219.6 480.6 213.1 485.9 208.1 513.4 180.6 531.9 160.9 545.9 145.4 560.6 127.4 567.9 117.1 576.6 105.6 581.6 97.9 583.1 94.6 583.6 94.1Z" fill="#23ea26"/>
<path d="M582.9 93.6 581.9 93.4 577.9 95.4 570.1 100.4 559.1 108.9 542.6 122.9 523.1 140.6 500.9 162.9 478.9 183.1 465.1 197.1 456.4 208.4 452.4 214.4 449.6 219.6 449.1 221.1 449.1 222.9 449.6 223.9 451.1 225.1 452.9 225.9 456.4 226.4 456.6 226.1 459.9 225.9 466.4 223.6 469.9 221.6 473.6 218.9 480.1 213.4 488.6 205.4 515.6 178.1 532.9 159.6 546.1 144.9 560.6 127.1 567.9 116.9 578.9 102.1 580.9 98.6Z" fill="#40eb1e"/>
<path d="M581.6 94.6 579.6 94.9 576.6 96.4 569.4 101.1 559.6 108.6 541.6 123.9 525.1 138.9 498.6 165.1 477.6 184.4 466.1 196.1 456.4 208.6 451.9 215.6 450.1 219.1 449.4 221.4 449.4 222.6 449.9 223.6 452.4 225.4 455.4 226.1 459.1 225.9 465.4 223.9 469.6 221.6 473.4 218.9 479.6 213.6 487.4 206.4 516.4 177.1 533.4 158.9 546.4 144.4 559.9 127.9 567.9 116.6 577.1 104.4 580.6 98.4 581.6 95.6Z" fill="#5ded17"/>
<path d="M580.6 95.6 578.4 95.9 575.4 97.4 570.4 100.6 560.1 108.4 542.4 123.4 526.6 137.6 500.4 163.6 478.9 183.4 465.6 196.9 456.4 208.9 452.4 215.1 450.4 219.1 449.9 220.6 449.9 222.9 450.4 223.6 451.6 224.6 454.1 225.6 457.9 225.9 461.4 225.1 467.6 222.6 471.9 219.9 479.1 213.9 498.9 194.9 525.4 167.4 543.6 147.4 554.4 134.6 561.4 125.6 578.1 102.6 579.9 99.4 580.6 97.1Z" fill="#7aef0f"/>
<path d="M579.9 96.6 579.6 96.4 578.1 96.4 576.9 96.9 569.6 101.4 560.6 108.1 541.6 124.1 525.1 139.1 503.4 160.9 486.9 176.4 477.6 184.6 466.6 195.9 456.9 208.4 452.9 214.6 450.9 218.6 450.1 220.9 450.1 222.4 450.6 223.4 453.4 225.1 455.4 225.6 458.4 225.6 465.4 223.6 469.9 221.1 473.9 218.1 480.9 212.1 489.4 204.1 515.1 178.1 532.4 159.6 545.6 144.9 559.1 128.4 576.9 104.1 579.4 99.9 579.9 98.4Z" fill="#96f109"/>
<path d="M579.4 97.4 578.9 96.9 577.9 96.9 575.9 97.6 569.6 101.6 559.9 108.9 542.4 123.6 526.6 137.9 500.4 163.9 479.1 183.4 465.9 196.9 456.9 208.6 453.4 214.1 451.1 218.6 450.4 221.1 450.4 221.9 451.1 223.4 453.6 224.9 455.4 225.4 458.9 225.4 465.6 223.4 469.6 221.1 473.4 218.4 480.1 212.6 487.6 205.6 516.1 176.9 544.6 145.9 550.6 138.4 553.9 134.9 560.1 126.9 567.9 115.9 577.9 102.4 579.1 99.9Z" fill="#aff507"/>
<path d="M578.9 97.9 578.4 97.4 576.6 97.6 569.6 101.9 559.1 109.6 541.6 124.4 525.4 139.1 503.9 160.6 487.1 176.4 477.9 184.6 466.9 195.9 457.4 208.1 453.1 214.9 451.1 219.1 450.9 222.4 451.4 223.1 454.6 224.9 459.4 225.1 462.4 224.4 466.9 222.6 471.9 219.4 479.4 213.1 497.9 195.4 522.6 169.9 543.4 147.1 554.1 134.4 561.6 124.6 569.1 113.9 576.6 103.9 578.9 99.9Z" fill="#c9f805"/>
<path d="M578.6 98.4 578.1 97.9 576.1 98.1 569.6 102.1 567.9 103.6 560.9 108.4 542.4 123.9 526.9 137.9 500.6 163.9 479.4 183.4 466.1 196.9 457.4 208.4 453.9 213.9 451.4 219.1 451.1 221.9 451.6 222.9 452.9 223.9 455.4 224.9 459.9 224.9 466.6 222.6 470.6 220.1 473.9 217.6 481.1 211.4 488.9 204.1 515.4 177.4 532.4 159.1 546.9 142.9 559.6 127.1 573.6 107.4 575.9 104.6 578.4 100.6Z" fill="#e3fb02"/>
<path d="M577.9 98.4 576.4 98.4 573.9 99.6 563.9 106.4 558.9 110.1 541.6 124.6 525.6 139.1 499.1 165.4 478.1 184.6 467.1 195.9 457.9 207.9 454.6 212.9 451.9 218.4 451.4 220.1 451.4 221.6 451.9 222.6 452.6 223.4 455.4 224.6 458.9 224.9 464.6 223.4 468.1 221.6 473.4 217.9 480.1 212.1 498.4 194.6 524.9 167.1 542.9 147.4 553.6 134.6 561.1 124.9 576.9 102.9 578.1 100.6 578.4 99.6Z" fill="#fcff00"/>
<path d="M577.9 99.1 577.4 98.6 576.6 98.6 574.4 99.6 562.6 107.4 542.6 123.9 527.1 137.9 500.9 163.9 479.6 183.4 466.4 196.9 458.4 207.4 454.6 213.1 452.4 217.6 451.6 219.9 451.9 222.1 453.1 223.4 456.4 224.6 459.6 224.6 464.9 223.1 469.1 220.9 471.9 218.9 479.4 212.6 485.9 206.6 514.4 178.1 531.9 159.4 546.4 143.1 551.1 137.1 554.1 133.9 560.6 125.4 572.6 108.1 576.6 102.9 577.6 101.1Z" fill="#ffff00"/>
<path d="M577.6 99.6 577.1 99.1 576.1 99.1 574.1 100.1 562.1 107.9 541.9 124.6 525.9 139.1 499.4 165.4 478.6 184.4 467.4 195.9 457.6 208.6 454.4 213.9 451.9 219.6 451.9 221.4 452.4 222.4 454.6 223.9 458.1 224.6 458.4 224.4 460.4 224.4 464.6 223.1 468.9 220.9 473.9 217.1 481.1 210.9 499.4 193.4 521.1 170.9 542.4 147.6 553.1 134.9 561.4 124.1 573.6 106.4 575.1 104.6 577.1 101.6Z" fill="#ffff00"/>
<path d="M577.1 99.9 576.1 99.6 573.9 100.6 562.4 107.9 553.9 114.6 540.9 125.6 527.4 137.9 501.4 163.6 479.9 183.4 466.6 196.9 458.1 208.1 455.4 212.4 452.9 217.4 452.1 219.4 452.4 221.9 453.6 223.1 455.1 223.9 456.9 224.4 459.4 224.4 463.6 223.4 467.9 221.4 472.1 218.4 480.1 211.6 497.1 195.4 522.4 169.4 544.6 144.9 550.6 137.4 553.6 134.1 560.9 124.6 576.6 101.9Z" fill="#ffff00"/>
<path d="M576.4 100.4 575.4 100.4 572.4 101.9 561.9 108.4 541.9 124.9 526.1 139.1 499.6 165.4 478.9 184.4 467.6 195.9 463.4 201.1 458.1 208.4 455.4 212.6 452.4 219.1 452.4 221.4 453.6 222.9 455.6 223.9 460.4 224.1 464.6 222.9 467.6 221.4 474.1 216.6 488.9 203.4 510.9 181.4 523.6 167.9 543.6 145.9 553.9 133.6 560.4 125.1 575.6 102.9 576.4 101.4Z" fill="#ffff00"/>
<path d="M575.6 101.6 575.4 101.4 573.9 101.6 562.4 108.1 542.9 124.1 524.4 140.9 502.1 163.1 480.4 183.1 466.9 196.9 458.6 207.9 455.4 212.9 453.1 217.6 452.4 220.1 452.9 221.9 455.4 223.6 457.4 224.1 459.4 224.1 463.6 223.1 466.1 222.1 468.6 220.6 473.6 216.9 480.6 210.9 497.4 194.9 522.1 169.4 538.6 151.4 546.9 141.9 555.1 131.9 561.1 123.9 570.1 110.9 575.1 102.9Z" fill="#ffff00"/>
<path d="M574.1 102.6 573.1 102.6 570.6 103.6 561.9 108.6 542.1 124.9 526.4 139.1 499.9 165.4 479.4 184.1 467.9 195.9 462.9 202.1 457.9 209.1 455.1 213.6 452.9 218.6 452.6 220.9 453.1 221.9 454.6 223.1 456.6 223.9 460.4 223.9 462.6 223.4 465.9 222.1 470.6 219.1 474.6 215.9 490.1 201.9 510.4 181.6 531.9 158.6 544.6 144.4 549.4 138.4 553.6 133.6 561.9 122.6 569.6 111.4 574.1 103.4Z" fill="#ffff00"/>
<path d="M572.9 103.9 572.1 103.6 567.9 105.4 561.4 109.1 541.1 125.9 524.9 140.6 502.6 162.9 480.6 183.1 467.1 196.9 461.4 204.4 456.9 210.9 453.9 216.6 452.9 219.4 453.1 221.6 454.1 222.6 455.6 223.4 457.4 223.9 459.6 223.9 464.4 222.6 468.6 220.4 473.9 216.4 481.1 210.1 497.6 194.4 524.6 166.4 526.6 163.9 540.4 149.1 552.9 134.4 560.1 124.9 568.6 112.6 572.6 105.4Z" fill="#ffff00"/>
<path d="M571.9 104.9 570.6 104.6 567.4 105.9 563.9 107.6 560.9 109.6 542.1 125.1 526.6 139.1 500.1 165.4 479.6 184.1 468.1 195.9 460.6 205.6 456.9 211.1 454.1 216.4 453.1 218.9 453.1 221.1 453.4 221.6 455.9 223.4 460.6 223.6 464.1 222.6 467.6 220.9 473.4 216.6 480.4 210.6 495.9 195.9 509.6 182.1 522.6 168.4 541.1 148.1 553.4 133.6 559.6 125.4 567.6 113.9 571.4 107.1Z" fill="#fff000"/>
<path d="M570.6 105.4 566.6 106.4 562.1 108.9 553.9 115.4 539.4 127.6 525.1 140.6 502.9 162.9 480.9 183.1 467.4 196.9 461.6 204.4 456.9 211.4 454.6 215.6 453.1 219.6 453.4 221.4 455.6 223.1 457.4 223.6 459.9 223.6 463.1 222.9 467.4 220.9 470.4 218.9 479.4 211.4 488.1 203.4 497.9 193.9 521.1 169.9 529.1 160.9 535.4 154.4 543.4 145.4 553.6 133.1 561.6 122.4 568.9 111.6 570.9 107.4 571.1 105.9Z" fill="#ffe000"/>
<path d="M570.1 106.1 568.1 106.1 566.6 106.6 561.6 109.4 540.4 126.9 526.6 139.4 500.4 165.4 479.6 184.4 468.4 195.9 462.1 203.9 458.1 209.6 455.4 214.4 453.4 219.1 453.6 221.4 454.6 222.4 456.9 223.4 461.9 223.1 466.4 221.4 471.1 218.1 478.6 211.9 486.6 204.6 496.4 195.1 513.4 177.9 530.9 159.1 542.4 146.4 552.9 133.9 562.4 121.1 568.4 112.1 570.4 107.9 570.4 106.4Z" fill="#ffcf00"/>
<path d="M568.9 106.4 565.9 107.1 561.1 109.9 539.4 127.9 524.9 141.1 502.9 163.1 481.1 183.1 467.6 196.9 462.6 203.4 456.9 211.9 453.9 218.1 453.6 221.1 454.9 222.4 456.4 223.1 460.1 223.4 463.9 222.4 467.4 220.6 473.1 216.4 480.1 210.4 498.6 192.9 520.1 170.6 541.4 147.4 553.1 133.4 559.4 125.1 567.1 113.9 569.4 109.9 569.9 108.4 569.9 106.9Z" fill="#ffbe00"/>
<path d="M568.9 106.9 567.4 106.9 565.6 107.4 560.6 110.4 538.1 129.1 526.6 139.6 500.4 165.6 479.9 184.4 474.9 189.4 466.4 198.6 461.9 204.6 456.9 212.1 454.9 216.1 453.6 219.6 453.9 221.1 455.1 222.4 456.9 223.1 460.9 223.1 464.9 221.9 469.4 219.1 474.1 215.4 484.1 206.6 504.6 186.6 521.4 169.1 535.6 153.6 552.4 134.1 558.9 125.6 567.1 113.6 569.4 109.1 569.4 107.4Z" fill="#ffad00"/>
<path d="M569.1 107.9 568.1 107.1 567.4 107.1 564.9 107.9 561.9 109.6 553.6 116.1 545.6 123.1 541.1 126.6 527.9 138.6 501.9 164.4 480.9 183.6 468.1 196.6 462.4 204.1 458.1 210.4 455.4 215.4 453.9 219.1 453.9 220.9 454.4 221.6 455.4 222.4 457.4 223.1 460.1 223.1 465.1 221.6 468.1 219.9 473.6 215.6 480.6 209.6 495.4 195.6 510.1 180.9 531.4 158.1 543.9 144.1 553.6 132.4 560.9 122.6 568.1 111.6 569.1 109.1Z" fill="#ff9c00"/>
<path d="M568.4 107.6 565.4 107.9 561.4 110.1 540.1 127.6 526.4 140.1 500.1 166.1 476.6 187.9 467.9 197.1 463.6 202.6 457.4 211.9 454.1 218.9 454.1 220.9 454.9 221.9 456.9 222.9 458.4 222.9 458.6 223.1 461.1 222.9 464.9 221.6 469.4 218.9 485.1 205.4 503.6 187.4 520.6 169.6 537.4 151.4 552.9 133.1 560.4 123.1 566.6 113.9 568.6 110.1 568.9 108.4Z" fill="#ff8b00"/>
<path d="M567.9 107.9 565.9 107.9 564.6 108.4 559.9 111.4 538.9 128.9 527.4 139.4 501.1 165.4 480.6 184.1 468.9 196.1 461.1 206.4 457.1 212.6 454.1 219.6 454.4 221.1 455.1 221.9 457.6 222.9 461.6 222.6 465.1 221.4 469.1 218.9 484.1 206.1 504.6 186.1 521.1 168.9 535.4 153.4 552.1 133.9 559.1 124.6 566.1 114.4 568.4 110.1 568.4 108.4Z" fill="#ff7a00"/>
<path d="M567.6 108.1 565.1 108.4 562.6 109.6 560.1 111.4 539.6 128.4 525.4 141.4 503.4 163.4 481.9 183.1 468.4 196.9 462.9 204.1 456.9 213.4 454.4 219.4 454.4 220.6 455.4 221.9 457.1 222.6 462.1 222.4 466.6 220.4 469.9 218.1 478.9 210.6 486.4 203.9 509.9 180.6 538.4 149.9 553.4 132.1 561.6 120.9 567.1 112.4 568.1 110.1 568.1 108.6Z" fill="#ff6a00"/>
<path d="M567.4 108.4 564.9 108.6 560.4 111.4 538.1 129.9 526.6 140.4 500.4 166.4 477.4 187.6 468.4 197.1 462.9 204.4 458.4 211.1 455.9 215.9 454.6 219.1 454.6 220.6 455.4 221.6 457.9 222.6 461.6 222.4 466.4 220.4 469.6 218.1 485.6 204.4 510.1 180.1 538.6 149.4 553.4 131.9 560.4 122.4 566.6 112.9 567.9 110.1 567.9 108.9Z" fill="#ff5a00"/>
<path d="M567.1 108.6 564.9 108.9 560.6 111.4 540.6 127.9 527.1 140.1 500.9 166.1 480.6 184.6 468.4 197.4 462.4 205.4 458.6 211.1 454.9 218.9 454.9 220.6 455.6 221.6 457.4 222.4 461.9 222.1 465.6 220.6 469.4 218.1 485.4 204.4 502.9 187.4 519.9 169.6 525.1 163.6 534.4 153.9 542.4 144.9 552.4 132.9 560.9 121.4 565.4 114.6 567.6 110.1 567.6 109.1Z" fill="#ff4900"/>
<path d="M566.9 108.9 565.6 108.9 564.1 109.4 560.6 111.6 540.9 127.9 527.4 140.1 501.4 165.9 480.9 184.6 468.4 197.6 460.6 208.4 458.4 211.9 455.4 218.1 454.9 219.9 455.6 221.4 457.1 222.1 458.4 222.1 458.6 222.4 461.1 222.1 463.6 221.4 468.4 218.6 474.9 213.4 485.1 204.4 502.9 187.1 519.6 169.6 527.9 160.4 534.4 153.6 542.4 144.6 552.1 132.9 560.1 122.1 565.1 114.6 567.4 110.1Z" fill="#ff3900"/>
<path d="M566.4 109.1 564.9 109.4 562.4 110.6 559.6 112.6 540.9 128.1 527.4 140.4 501.1 166.4 477.4 188.4 468.9 197.4 461.4 207.6 458.4 212.4 455.6 218.1 455.4 220.6 456.1 221.4 458.1 222.1 461.4 221.9 463.6 221.1 468.4 218.4 475.1 212.9 485.6 203.6 509.9 179.6 538.1 149.1 551.9 132.9 560.4 121.4 564.9 114.6 566.9 110.9 566.9 109.6Z" fill="#ff2900"/>
<path d="M566.4 109.6 565.1 109.6 563.4 110.4 559.1 113.4 546.1 124.4 543.6 126.1 533.1 135.4 526.1 141.9 504.6 163.4 491.9 175.4 482.9 183.4 469.6 196.9 464.1 204.1 458.9 212.1 455.6 219.1 455.9 220.9 457.1 221.6 458.4 221.9 461.4 221.6 465.6 219.9 468.9 217.6 479.4 208.9 487.6 201.4 508.6 180.6 537.1 149.9 552.1 132.1 559.9 121.6 564.4 114.9 566.6 110.4Z" fill="#ff1800"/>
<path d="M565.6 110.1 562.9 111.1 560.1 113.1 549.4 121.9 546.1 124.9 543.6 126.6 528.9 139.9 502.9 165.6 482.6 184.1 473.9 192.9 469.1 198.1 463.4 205.9 459.4 212.1 457.6 215.4 456.1 219.1 456.1 220.4 456.6 220.9 457.9 221.4 461.9 221.1 465.6 219.4 468.9 217.1 484.6 203.6 503.4 185.4 531.4 155.6 540.4 145.6 554.9 127.9 563.4 115.6 565.9 111.1Z" fill="#ff0800"/>
<path d="M564.9 111.1 563.6 111.4 556.9 116.4 535.6 134.4 529.4 140.1 503.4 165.9 483.1 184.4 474.1 193.4 469.6 198.4 463.9 206.1 460.4 211.6 456.9 218.6 456.6 219.9 457.4 220.6 458.1 220.9 461.6 220.6 464.6 219.4 467.6 217.4 484.4 203.1 502.9 185.1 522.1 164.9 541.4 143.6 554.4 127.6 563.6 114.1 564.9 111.9Z" fill="#ff0000"/></g>
<path d="M83.75 62.00L83.75 62.15L86.78 62.15L86.78 62.13L89.81 62.13L89.81 62.10L92.85 62.10L92.85 62.06L95.88 62.06L95.88 62.00L98.91 62.00L98.91 61.94L101.94 61.94L101.94 61.82L104.98 61.82L104.98 61.63L108.01 61.63L108.01 61.40L111.04 61.40L111.04 61.07L114.07 61.07L114.07 60.64L117.10 60.64L117.10 60.03L120.14 60.03L120.14 59.24L123.17 59.24L123.17 58.37L126.20 58.37L126.20 57.16L129.23 57.16L129.23 55.73L132.26 55.73L132.26 54.00L135.30 54.00L135.30 51.44L138.33 51.44L138.33 48.31L141.36 48.31L141.36 44.92L144.39 44.92L144.39 40.80L147.43 40.80L147.43 36.33L150.46 36.33L150.46 31.75L153.49 31.75L153.49 28.09L156.52 28.09L156.52 25.75L159.55 25.75L159.55 24.35L162.59 24.35L162.59 23.61L165.62 23.61L165.62 23.32L168.65 23.32L168.65 23.14L171.68 23.14L171.68 23.04L174.71 23.04L174.71 23.00L177.75 23.00L177.75 23.07L180.78 23.07L180.78 23.36L183.81 23.36L183.81 23.89L186.84 23.89L186.84 24.61L189.88 24.61L189.88 25.38L192.91 25.38L192.91 26.24L195.94 26.24L195.94 27.19L198.97 27.19L198.97 28.25L202.00 28.25L202.00 29.42L205.04 29.42L205.04 30.65L208.07 30.65L208.07 31.92L211.10 31.92L211.10 33.26L214.13 33.26L214.13 34.68L217.16 34.68L217.16 36.20L220.20 36.20L220.20 37.75L223.23 37.75L223.23 39.29L226.26 39.29L226.26 40.84L229.29 40.84L229.29 42.42L232.33 42.42L232.33 44.07L235.36 44.07L235.36 45.71L238.39 45.71L238.39 47.25L241.42 47.25L241.42 48.73L244.45 48.73L244.45 50.14L247.49 50.14L247.49 51.49L250.52 51.49L250.52 52.77L253.55 52.77L253.55 53.99L256.58 53.99L256.58 55.12L259.61 55.12L259.61 56.18L262.65 56.18L262.65 57.16L265.68 57.16L265.68 58.05L268.71 58.05L268.71 58.87L271.74 58.87L271.74 59.61L274.78 59.61L274.78 60.28L277.81 60.28L277.81 60.90L280.84 60.90L280.84 61.34L283.87 61.34L283.87 61.61L286.90 61.61L286.90 61.82L289.94 61.82L289.94 61.98L292.97 61.98L292.97 62.10L296.00 62.10L296.00 62.00Z" fill="#dcdcdc" stroke="#5a5a5a" stroke-width="0.8"/>
<path d="M83.75 274.00L83.70 274.00L83.70 270.97L83.70 270.97L83.70 267.94L83.70 267.94L83.70 264.91L83.70 264.91L83.70 261.89L83.70 261.89L83.70 258.86L83.63 258.86L83.63 255.83L83.47 255.83L83.47 252.80L83.24 252.80L83.24 249.77L82.95 249.77L82.95 246.74L82.59 246.74L82.59 243.71L82.13 243.71L82.13 240.69L81.47 240.69L81.47 237.66L80.57 237.66L80.57 234.63L79.55 234.63L79.55 231.60L78.37 231.60L78.37 228.57L77.12 228.57L77.12 225.54L75.85 225.54L75.85 222.51L74.50 222.51L74.50 219.49L73.04 219.49L73.04 216.46L71.47 216.46L71.47 213.43L69.79 213.43L69.79 210.40L67.99 210.40L67.99 207.37L65.98 207.37L65.98 204.34L63.76 204.34L63.76 201.31L61.54 201.31L61.54 198.29L59.23 198.29L59.23 195.26L57.14 195.26L57.14 192.23L55.52 192.23L55.52 189.20L54.11 189.20L54.11 186.17L52.69 186.17L52.69 183.14L51.20 183.14L51.20 180.11L49.77 180.11L49.77 177.09L48.41 177.09L48.41 174.06L47.30 174.06L47.30 171.03L46.40 171.03L46.40 168.00L45.64 168.00L45.64 164.97L45.11 164.97L45.11 161.94L45.10 161.94L45.10 158.92L45.21 158.92L45.21 155.89L45.80 155.89L45.80 152.86L46.63 152.86L46.63 149.83L47.80 149.83L47.80 146.80L49.34 146.80L49.34 143.77L50.84 143.77L50.84 140.74L52.19 140.74L52.19 137.72L53.26 137.72L53.26 134.69L54.30 134.69L54.30 131.66L55.40 131.66L55.40 128.63L56.76 128.63L56.76 125.60L59.14 125.60L59.14 122.57L61.77 122.57L61.77 119.54L65.18 119.54L65.18 116.52L67.48 116.52L67.48 113.49L69.03 113.49L69.03 110.46L70.22 110.46L70.22 107.43L71.49 107.43L71.49 104.40L72.95 104.40L72.95 101.37L74.51 101.37L74.51 98.34L76.04 98.34L76.04 95.32L77.55 95.32L77.55 92.29L79.04 92.29L79.04 89.26L80.53 89.26L80.53 86.23L82.23 86.23L82.23 83.20L83.03 83.20L83.03 80.17L83.37 80.17L83.37 77.14L83.52 77.14L83.52 74.12L83.65 74.12L83.65 71.09L83.70 71.09L83.70 68.06L83.70 68.06L83.70 65.03L83.70 65.03L83.70 62.00L83.75 62.00Z" fill="#dcdcdc" stroke="#5a5a5a" stroke-width="0.8"/>
<line x1="83.75" y1="16.80" x2="83.75" y2="278.20" stroke="#1a1a1a" stroke-width="0.95" />
<line x1="296.00" y1="16.80" x2="296.00" y2="278.20" stroke="#1a1a1a" stroke-width="0.95" />
<line x1="83.75" y1="21.50" x2="296.00" y2="21.50" stroke="#1a1a1a" stroke-width="0.95" />
<line x1="38.70" y1="62.00" x2="296.00" y2="62.00" stroke="#1a1a1a" stroke-width="0.95" />
<line x1="38.70" y1="274.00" x2="296.00" y2="274.00" stroke="#1a1a1a" stroke-width="0.95" />
<line x1="43.00" y1="62.00" x2="43.00" y2="274.00" stroke="#1a1a1a" stroke-width="0.95" />
<line x1="83.75" y1="16.80" x2="83.75" y2="21.50" stroke="#1a1a1a" stroke-width="0.95" />
<line x1="83.75" y1="274.00" x2="83.75" y2="278.20" stroke="#1a1a1a" stroke-width="0.95" />
<line x1="38.70" y1="274.00" x2="43.00" y2="274.00" stroke="#1a1a1a" stroke-width="0.95" />
<text x="83.75" y="289.60" font-size="12.00" text-anchor="middle" fill="#000" >3</text>
<text x="36.20" y="278.30" font-size="12.00" text-anchor="end" fill="#000" >3</text>
<line x1="114.07" y1="16.80" x2="114.07" y2="21.50" stroke="#1a1a1a" stroke-width="0.95" />
<line x1="114.07" y1="274.00" x2="114.07" y2="278.20" stroke="#1a1a1a" stroke-width="0.95" />
<line x1="38.70" y1="243.71" x2="43.00" y2="243.71" stroke="#1a1a1a" stroke-width="0.95" />
<text x="114.07" y="289.60" font-size="12.00" text-anchor="middle" fill="#000" >3.5</text>
<text x="36.20" y="248.01" font-size="12.00" text-anchor="end" fill="#000" >3.5</text>
<line x1="144.39" y1="16.80" x2="144.39" y2="21.50" stroke="#1a1a1a" stroke-width="0.95" />
<line x1="144.39" y1="274.00" x2="144.39" y2="278.20" stroke="#1a1a1a" stroke-width="0.95" />
<line x1="38.70" y1="213.43" x2="43.00" y2="213.43" stroke="#1a1a1a" stroke-width="0.95" />
<text x="144.39" y="289.60" font-size="12.00" text-anchor="middle" fill="#000" >4</text>
<text x="36.20" y="217.73" font-size="12.00" text-anchor="end" fill="#000" >4</text>
<line x1="174.71" y1="16.80" x2="174.71" y2="21.50" stroke="#1a1a1a" stroke-width="0.95" />
<line x1="174.71" y1="274.00" x2="174.71" y2="278.20" stroke="#1a1a1a" stroke-width="0.95" />
<line x1="38.70" y1="183.14" x2="43.00" y2="183.14" stroke="#1a1a1a" stroke-width="0.95" />
<text x="174.71" y="289.60" font-size="12.00" text-anchor="middle" fill="#000" >4.5</text>
<text x="36.20" y="187.44" font-size="12.00" text-anchor="end" fill="#000" >4.5</text>
<line x1="205.04" y1="16.80" x2="205.04" y2="21.50" stroke="#1a1a1a" stroke-width="0.95" />
<line x1="205.04" y1="274.00" x2="205.04" y2="278.20" stroke="#1a1a1a" stroke-width="0.95" />
<line x1="38.70" y1="152.86" x2="43.00" y2="152.86" stroke="#1a1a1a" stroke-width="0.95" />
<text x="205.04" y="289.60" font-size="12.00" text-anchor="middle" fill="#000" >5</text>
<text x="36.20" y="157.16" font-size="12.00" text-anchor="end" fill="#000" >5</text>
<line x1="235.36" y1="16.80" x2="235.36" y2="21.50" stroke="#1a1a1a" stroke-width="0.95" />
<line x1="235.36" y1="274.00" x2="235.36" y2="278.20" stroke="#1a1a1a" stroke-width="0.95" />
<line x1="38.70" y1="122.57" x2="43.00" y2="122.57" stroke="#1a1a1a" stroke-width="0.95" />
<text x="235.36" y="289.60" font-size="12.00" text-anchor="middle" fill="#000" >5.5</text>
<text x="36.20" y="126.87" font-size="12.00" text-anchor="end" fill="#000" >5.5</text>
<line x1="265.68" y1="16.80" x2="265.68" y2="21.50" stroke="#1a1a1a" stroke-width="0.95" />
<line x1="265.68" y1="274.00" x2="265.68" y2="278.20" stroke="#1a1a1a" stroke-width="0.95" />
<line x1="38.70" y1="92.29" x2="43.00" y2="92.29" stroke="#1a1a1a" stroke-width="0.95" />
<text x="265.68" y="289.60" font-size="12.00" text-anchor="middle" fill="#000" >6</text>
<text x="36.20" y="96.59" font-size="12.00" text-anchor="end" fill="#000" >6</text>
<line x1="296.00" y1="16.80" x2="296.00" y2="21.50" stroke="#1a1a1a" stroke-width="0.95" />
<line x1="296.00" y1="274.00" x2="296.00" y2="278.20" stroke="#1a1a1a" stroke-width="0.95" />
<line x1="38.70" y1="62.00" x2="43.00" y2="62.00" stroke="#1a1a1a" stroke-width="0.95" />
<text x="296.00" y="289.60" font-size="12.00" text-anchor="middle" fill="#000" >6.5</text>
<text x="36.20" y="66.30" font-size="12.00" text-anchor="end" fill="#000" >6.5</text>
<line x1="83.75" y1="274.00" x2="296.00" y2="62.00" stroke="#000" stroke-width="1.70" />
<text transform="translate(26.60 12.1) scale(0.92 1)" font-size="16.5" font-weight="bold">a</text>
<text x="190.00" y="11.20" font-size="13.40" text-anchor="middle" fill="#000" >COSMIC vs IRI densities</text>
<text x="95.00" y="80.50" font-size="12.40" text-anchor="start" fill="#000" >σ = 11·10<tspan font-size="8.5" dy="-5.3">4</tspan><tspan dy="5.3"> el./cm</tspan><tspan font-size="8.5" dy="-5.3">3</tspan></text>
<text x="190.00" y="306.90" font-size="12.40" text-anchor="middle" fill="#000" >log<tspan font-size="8.5" dy="2.5">10</tspan><tspan dy="-2.5"> N</tspan><tspan font-size="8.5" dy="2.5">e</tspan><tspan dy="-2.5">, COSMIC, el./cm</tspan><tspan font-size="8.5" dy="-3.5">3</tspan></text>
<text transform="translate(10.60 168.2) rotate(-90)" font-size="12.4" text-anchor="middle">log<tspan font-size="8.5" dy="2.5">10</tspan><tspan dy="-2.5"> N</tspan><tspan font-size="8.5" dy="2.5">e</tspan><tspan dy="-2.5">, IRI, el./cm</tspan><tspan font-size="8.5" dy="-3.5">3</tspan></text>
<path d="M402.75 62.00L402.75 62.15L405.78 62.15L405.78 62.13L408.81 62.13L408.81 62.10L411.85 62.10L411.85 62.06L414.88 62.06L414.88 62.00L417.91 62.00L417.91 61.94L420.94 61.94L420.94 61.82L423.98 61.82L423.98 61.63L427.01 61.63L427.01 61.40L430.04 61.40L430.04 61.07L433.07 61.07L433.07 60.64L436.10 60.64L436.10 60.03L439.14 60.03L439.14 59.24L442.17 59.24L442.17 58.37L445.20 58.37L445.20 57.16L448.23 57.16L448.23 55.73L451.26 55.73L451.26 54.00L454.30 54.00L454.30 51.44L457.33 51.44L457.33 48.31L460.36 48.31L460.36 44.92L463.39 44.92L463.39 40.80L466.43 40.80L466.43 36.33L469.46 36.33L469.46 31.75L472.49 31.75L472.49 28.09L475.52 28.09L475.52 25.75L478.55 25.75L478.55 24.35L481.59 24.35L481.59 23.61L484.62 23.61L484.62 23.32L487.65 23.32L487.65 23.14L490.68 23.14L490.68 23.04L493.71 23.04L493.71 23.00L496.75 23.00L496.75 23.07L499.78 23.07L499.78 23.36L502.81 23.36L502.81 23.89L505.84 23.89L505.84 24.61L508.88 24.61L508.88 25.38L511.91 25.38L511.91 26.24L514.94 26.24L514.94 27.19L517.97 27.19L517.97 28.25L521.00 28.25L521.00 29.42L524.04 29.42L524.04 30.65L527.07 30.65L527.07 31.92L530.10 31.92L530.10 33.26L533.13 33.26L533.13 34.68L536.16 34.68L536.16 36.20L539.20 36.20L539.20 37.75L542.23 37.75L542.23 39.29L545.26 39.29L545.26 40.84L548.29 40.84L548.29 42.42L551.33 42.42L551.33 44.07L554.36 44.07L554.36 45.71L557.39 45.71L557.39 47.25L560.42 47.25L560.42 48.73L563.45 48.73L563.45 50.14L566.49 50.14L566.49 51.49L569.52 51.49L569.52 52.77L572.55 52.77L572.55 53.99L575.58 53.99L575.58 55.12L578.61 55.12L578.61 56.18L581.65 56.18L581.65 57.16L584.68 57.16L584.68 58.05L587.71 58.05L587.71 58.87L590.74 58.87L590.74 59.61L593.78 59.61L593.78 60.28L596.81 60.28L596.81 60.90L599.84 60.90L599.84 61.34L602.87 61.34L602.87 61.61L605.90 61.61L605.90 61.82L608.94 61.82L608.94 61.98L611.97 61.98L611.97 62.10L615.00 62.10L615.00 62.00Z" fill="#dcdcdc" stroke="#5a5a5a" stroke-width="0.8"/>
<path d="M402.75 274.00L402.70 274.00L402.70 270.97L402.70 270.97L402.70 267.94L402.70 267.94L402.70 264.91L402.69 264.91L402.69 261.89L402.63 261.89L402.63 258.86L402.55 258.86L402.55 255.83L402.43 255.83L402.43 252.80L402.27 252.80L402.27 249.77L402.08 249.77L402.08 246.74L401.84 246.74L401.84 243.71L401.54 243.71L401.54 240.69L401.12 240.69L401.12 237.66L400.59 237.66L400.59 234.63L399.88 234.63L399.88 231.60L398.71 231.60L398.71 228.57L397.28 228.57L397.28 225.54L395.68 225.54L395.68 222.51L393.65 222.51L393.65 219.49L390.70 219.49L390.70 216.46L386.78 216.46L386.78 213.43L381.96 213.43L381.96 210.40L377.49 210.40L377.49 207.37L373.70 207.37L373.70 204.34L369.41 204.34L369.41 201.31L366.31 201.31L366.31 198.29L364.84 198.29L364.84 195.26L364.31 195.26L364.31 192.23L364.06 192.23L364.06 189.20L363.92 189.20L363.92 186.17L363.83 186.17L363.83 183.14L363.80 183.14L363.80 180.11L363.86 180.11L363.86 177.09L363.98 177.09L363.98 174.06L364.15 174.06L364.15 171.03L364.45 171.03L364.45 168.00L364.87 168.00L364.87 164.97L365.51 164.97L365.51 161.94L366.29 161.94L366.29 158.92L367.30 158.92L367.30 155.89L368.50 155.89L368.50 152.86L369.89 152.86L369.89 149.83L371.47 149.83L371.47 146.80L373.01 146.80L373.01 143.77L374.52 143.77L374.52 140.74L376.04 140.74L376.04 137.72L377.51 137.72L377.51 134.69L378.97 134.69L378.97 131.66L380.59 131.66L380.59 128.63L382.58 128.63L382.58 125.60L384.68 125.60L384.68 122.57L386.73 122.57L386.73 119.54L388.68 119.54L388.68 116.52L390.42 116.52L390.42 113.49L391.93 113.49L391.93 110.46L393.25 110.46L393.25 107.43L394.47 107.43L394.47 104.40L395.70 104.40L395.70 101.37L396.89 101.37L396.89 98.34L397.92 98.34L397.92 95.32L398.78 95.32L398.78 92.29L399.54 92.29L399.54 89.26L400.20 89.26L400.20 86.23L400.80 86.23L400.80 83.20L401.32 83.20L401.32 80.17L401.78 80.17L401.78 77.14L402.21 77.14L402.21 74.12L402.49 74.12L402.49 71.09L402.57 71.09L402.57 68.06L402.63 68.06L402.63 65.03L402.68 65.03L402.68 62.00L402.75 62.00Z" fill="#dcdcdc" stroke="#5a5a5a" stroke-width="0.8"/>
<line x1="402.75" y1="16.80" x2="402.75" y2="278.20" stroke="#1a1a1a" stroke-width="0.95" />
<line x1="615.00" y1="16.80" x2="615.00" y2="278.20" stroke="#1a1a1a" stroke-width="0.95" />
<line x1="402.75" y1="21.50" x2="615.00" y2="21.50" stroke="#1a1a1a" stroke-width="0.95" />
<line x1="357.70" y1="62.00" x2="615.00" y2="62.00" stroke="#1a1a1a" stroke-width="0.95" />
<line x1="357.70" y1="274.00" x2="615.00" y2="274.00" stroke="#1a1a1a" stroke-width="0.95" />
<line x1="362.00" y1="62.00" x2="362.00" y2="274.00" stroke="#1a1a1a" stroke-width="0.95" />
<line x1="402.75" y1="16.80" x2="402.75" y2="21.50" stroke="#1a1a1a" stroke-width="0.95" />
<line x1="402.75" y1="274.00" x2="402.75" y2="278.20" stroke="#1a1a1a" stroke-width="0.95" />
<line x1="357.70" y1="274.00" x2="362.00" y2="274.00" stroke="#1a1a1a" stroke-width="0.95" />
<text x="402.75" y="289.60" font-size="12.00" text-anchor="middle" fill="#000" >3</text>
<text x="355.20" y="278.30" font-size="12.00" text-anchor="end" fill="#000" >3</text>
<line x1="433.07" y1="16.80" x2="433.07" y2="21.50" stroke="#1a1a1a" stroke-width="0.95" />
<line x1="433.07" y1="274.00" x2="433.07" y2="278.20" stroke="#1a1a1a" stroke-width="0.95" />
<line x1="357.70" y1="243.71" x2="362.00" y2="243.71" stroke="#1a1a1a" stroke-width="0.95" />
<text x="433.07" y="289.60" font-size="12.00" text-anchor="middle" fill="#000" >3.5</text>
<text x="355.20" y="248.01" font-size="12.00" text-anchor="end" fill="#000" >3.5</text>
<line x1="463.39" y1="16.80" x2="463.39" y2="21.50" stroke="#1a1a1a" stroke-width="0.95" />
<line x1="463.39" y1="274.00" x2="463.39" y2="278.20" stroke="#1a1a1a" stroke-width="0.95" />
<line x1="357.70" y1="213.43" x2="362.00" y2="213.43" stroke="#1a1a1a" stroke-width="0.95" />
<text x="463.39" y="289.60" font-size="12.00" text-anchor="middle" fill="#000" >4</text>
<text x="355.20" y="217.73" font-size="12.00" text-anchor="end" fill="#000" >4</text>
<line x1="493.71" y1="16.80" x2="493.71" y2="21.50" stroke="#1a1a1a" stroke-width="0.95" />
<line x1="493.71" y1="274.00" x2="493.71" y2="278.20" stroke="#1a1a1a" stroke-width="0.95" />
<line x1="357.70" y1="183.14" x2="362.00" y2="183.14" stroke="#1a1a1a" stroke-width="0.95" />
<text x="493.71" y="289.60" font-size="12.00" text-anchor="middle" fill="#000" >4.5</text>
<text x="355.20" y="187.44" font-size="12.00" text-anchor="end" fill="#000" >4.5</text>
<line x1="524.04" y1="16.80" x2="524.04" y2="21.50" stroke="#1a1a1a" stroke-width="0.95" />
<line x1="524.04" y1="274.00" x2="524.04" y2="278.20" stroke="#1a1a1a" stroke-width="0.95" />
<line x1="357.70" y1="152.86" x2="362.00" y2="152.86" stroke="#1a1a1a" stroke-width="0.95" />
<text x="524.04" y="289.60" font-size="12.00" text-anchor="middle" fill="#000" >5</text>
<text x="355.20" y="157.16" font-size="12.00" text-anchor="end" fill="#000" >5</text>
<line x1="554.36" y1="16.80" x2="554.36" y2="21.50" stroke="#1a1a1a" stroke-width="0.95" />
<line x1="554.36" y1="274.00" x2="554.36" y2="278.20" stroke="#1a1a1a" stroke-width="0.95" />
<line x1="357.70" y1="122.57" x2="362.00" y2="122.57" stroke="#1a1a1a" stroke-width="0.95" />
<text x="554.36" y="289.60" font-size="12.00" text-anchor="middle" fill="#000" >5.5</text>
<text x="355.20" y="126.87" font-size="12.00" text-anchor="end" fill="#000" >5.5</text>
<line x1="584.68" y1="16.80" x2="584.68" y2="21.50" stroke="#1a1a1a" stroke-width="0.95" />
<line x1="584.68" y1="274.00" x2="584.68" y2="278.20" stroke="#1a1a1a" stroke-width="0.95" />
<line x1="357.70" y1="92.29" x2="362.00" y2="92.29" stroke="#1a1a1a" stroke-width="0.95" />
<text x="584.68" y="289.60" font-size="12.00" text-anchor="middle" fill="#000" >6</text>
<text x="355.20" y="96.59" font-size="12.00" text-anchor="end" fill="#000" >6</text>
<line x1="615.00" y1="16.80" x2="615.00" y2="21.50" stroke="#1a1a1a" stroke-width="0.95" />
<line x1="615.00" y1="274.00" x2="615.00" y2="278.20" stroke="#1a1a1a" stroke-width="0.95" />
<line x1="357.70" y1="62.00" x2="362.00" y2="62.00" stroke="#1a1a1a" stroke-width="0.95" />
<text x="615.00" y="289.60" font-size="12.00" text-anchor="middle" fill="#000" >6.5</text>
<text x="355.20" y="66.30" font-size="12.00" text-anchor="end" fill="#000" >6.5</text>
<line x1="402.75" y1="274.00" x2="615.00" y2="62.00" stroke="#000" stroke-width="1.70" />
<text transform="translate(341.61 12.1) scale(0.92 1)" font-size="16.5" font-weight="bold">b</text>
<text x="509.00" y="11.20" font-size="13.40" text-anchor="middle" fill="#000" >COSMIC vs NET densities</text>
<text x="414.00" y="80.50" font-size="12.40" text-anchor="start" fill="#000" >σ = 6·10<tspan font-size="8.5" dy="-5.3">4</tspan><tspan dy="5.3"> el./cm</tspan><tspan font-size="8.5" dy="-5.3">3</tspan></text>
<text x="509.00" y="306.90" font-size="12.40" text-anchor="middle" fill="#000" >log<tspan font-size="8.5" dy="2.5">10</tspan><tspan dy="-2.5"> N</tspan><tspan font-size="8.5" dy="2.5">e</tspan><tspan dy="-2.5">, COSMIC, el./cm</tspan><tspan font-size="8.5" dy="-3.5">3</tspan></text>
<text transform="translate(329.60 168.2) rotate(-90)" font-size="12.4" text-anchor="middle">log<tspan font-size="8.5" dy="2.5">10</tspan><tspan dy="-2.5"> N</tspan><tspan font-size="8.5" dy="2.5">e</tspan><tspan dy="-2.5">, NET, el./cm</tspan><tspan font-size="8.5" dy="-3.5">3</tspan></text>
<defs><linearGradient id="cbg" x1="0" y1="1" x2="0" y2="0"><stop offset="0.000" stop-color="#1034ea"/><stop offset="0.050" stop-color="#063af0"/><stop offset="0.090" stop-color="#0050eb"/><stop offset="0.127" stop-color="#0082f0"/><stop offset="0.170" stop-color="#00b4f5"/><stop offset="0.210" stop-color="#00dcfa"/><stop offset="0.250" stop-color="#00fcff"/><stop offset="0.370" stop-color="#00ffee"/><stop offset="0.430" stop-color="#00f096"/><stop offset="0.470" stop-color="#00e840"/><stop offset="0.510" stop-color="#0ae82d"/><stop offset="0.580" stop-color="#8cf00a"/><stop offset="0.650" stop-color="#ffff00"/><stop offset="0.760" stop-color="#ffff00"/><stop offset="0.880" stop-color="#ff7d00"/><stop offset="1.000" stop-color="#ff0000"/></linearGradient></defs>
<rect x="629.50" y="79.00" width="16.00" height="191.50" fill="url(#cbg)"/>
<polygon points="629.50,79.50 637.50,61.5 645.50,79.50" fill="#ff0000"/>
<path d="M629.50 273.60 L629.50 79.00 L637.5 61.5 L645.50 79.00 L645.50 273.60 Z" fill="none" stroke="#222" stroke-width="0.9"/>
<line x1="645.50" y1="273.90" x2="649.90" y2="273.90" stroke="#222" stroke-width="1.00" />
<text x="652.30" y="278.60" font-size="12.20" text-anchor="start" fill="#000" >0</text>
<line x1="645.50" y1="209.03" x2="649.90" y2="209.03" stroke="#222" stroke-width="1.00" />
<text x="652.30" y="213.73" font-size="12.20" text-anchor="start" fill="#000" >0.1</text>
<line x1="645.50" y1="144.17" x2="649.90" y2="144.17" stroke="#222" stroke-width="1.00" />
<text x="652.30" y="148.87" font-size="12.20" text-anchor="start" fill="#000" >0.2</text>
<line x1="645.50" y1="79.30" x2="649.90" y2="79.30" stroke="#222" stroke-width="1.00" />
<text x="652.30" y="84.00" font-size="12.20" text-anchor="start" fill="#000" >0.3</text>
<text transform="translate(682 167.5) rotate(-90)" font-size="12.25" text-anchor="middle">probability of occurrence, %</text>
<line x1="129.85" y1="552.70" x2="129.85" y2="438.63" stroke="#2f6ff0" stroke-width="1.00" stroke-dasharray="2.45 1.05"/>
<line x1="84.45" y1="438.63" x2="129.85" y2="438.63" stroke="#2f6ff0" stroke-width="1.00" stroke-dasharray="2.45 1.05"/>
<line x1="175.95" y1="552.70" x2="175.95" y2="387.29" stroke="#22b05a" stroke-width="1.00" stroke-dasharray="2.45 1.05"/>
<line x1="84.45" y1="387.29" x2="175.95" y2="387.29" stroke="#22b05a" stroke-width="1.00" stroke-dasharray="2.45 1.05"/>
<line x1="222.05" y1="552.70" x2="222.05" y2="363.63" stroke="#ff8a1a" stroke-width="1.00" stroke-dasharray="2.45 1.05"/>
<line x1="84.45" y1="363.63" x2="222.05" y2="363.63" stroke="#ff8a1a" stroke-width="1.00" stroke-dasharray="2.45 1.05"/>
<line x1="268.15" y1="552.70" x2="268.15" y2="352.65" stroke="#ff1a2a" stroke-width="1.00" stroke-dasharray="2.45 1.05"/>
<line x1="84.45" y1="352.65" x2="268.15" y2="352.65" stroke="#ff1a2a" stroke-width="1.00" stroke-dasharray="2.45 1.05"/>
<polyline points="83.75,552.70 84.22,551.26 84.69,549.80 85.16,548.34 85.63,546.87 86.09,545.42 86.56,543.96 87.03,542.52 87.50,541.08 87.97,539.65 88.44,538.23 88.91,536.81 89.38,535.41 89.84,534.01 90.31,532.61 90.78,531.23 91.25,529.86 91.72,528.49 92.19,527.12 92.66,525.77 93.13,524.42 93.60,523.08 94.06,521.74 94.53,520.41 95.00,519.08 95.47,517.76 95.94,516.44 96.41,515.13 96.88,513.81 97.35,512.50 97.81,511.19 98.28,509.87 98.75,508.56 99.22,507.25 99.69,505.93 100.16,504.62 100.63,503.30 101.10,501.98 101.56,500.65 102.03,499.32 102.50,497.99 102.97,496.66 103.44,495.32 103.91,493.98 104.38,492.65 104.85,491.31 105.32,489.97 105.78,488.64 106.25,487.31 106.72,485.99 107.19,484.68 107.66,483.37 108.13,482.08 108.60,480.81 109.07,479.55 109.53,478.31 110.00,477.09 110.47,475.89 110.94,474.72 111.41,473.56 112.74,470.40 114.08,467.42 115.41,464.58 116.74,461.87 118.08,459.25 119.41,456.71 120.74,454.22 122.08,451.79 123.41,449.41 124.74,447.08 126.08,444.81 127.41,442.58 128.74,440.40 130.08,438.26 131.41,436.18 132.74,434.13 134.08,432.14 135.41,430.18 136.74,428.27 138.08,426.40 139.41,424.57 140.74,422.78 142.07,421.02 143.41,419.31 144.74,417.63 146.07,415.99 147.41,414.39 148.74,412.82 150.07,411.28 151.41,409.78 152.74,408.31 154.07,406.87 155.41,405.47 156.74,404.09 158.07,402.75 159.41,401.43 160.74,400.15 162.07,398.89 163.41,397.66 164.74,396.46 166.07,395.28 167.41,394.13 168.74,393.00 170.07,391.90 171.41,390.82 172.74,389.77 174.07,388.74 175.41,387.73 176.74,386.75 178.07,385.79 179.41,384.84 180.74,383.92 182.07,383.02 183.41,382.14 184.74,381.28 186.07,380.44 187.41,379.61 188.74,378.81 190.07,378.02 191.41,377.25 192.74,376.50 194.07,375.76 195.40,375.04 196.74,374.34 198.07,373.65 199.40,372.97 200.74,372.31 202.07,371.67 203.40,371.04 204.74,370.43 206.07,369.82 207.40,369.24 208.74,368.66 210.07,368.10 211.40,367.55 212.74,367.01 214.07,366.48 215.40,365.97 216.74,365.47 218.07,364.97 219.40,364.49 220.74,364.02 222.07,363.56 223.40,363.12 224.74,362.68 226.07,362.25 227.40,361.83 228.74,361.42 230.07,361.02 231.40,360.62 232.74,360.24 234.07,359.86 235.40,359.50 236.74,359.14 238.07,358.79 239.40,358.45 240.74,358.11 242.07,357.78 243.40,357.46 244.74,357.15 246.07,356.84 247.40,356.55 248.73,356.25 250.07,355.97 251.40,355.69 252.73,355.41 254.07,355.15 255.40,354.89 256.73,354.63 258.07,354.38 259.40,354.14 260.73,353.90 262.07,353.67 263.40,353.44 264.73,353.21 266.07,353.00 267.40,352.78 268.73,352.58 270.07,352.37 271.40,352.17 272.73,351.98 274.07,351.79 275.40,351.60 276.73,351.42 278.07,351.24 279.40,351.07 280.73,350.90 282.07,350.73 283.40,350.57 284.73,350.41 286.07,350.26 287.40,350.11 288.73,349.96 290.07,349.81 291.40,349.67 292.73,349.53 294.07,349.40 295.40,349.27 296.73,349.14" fill="none" stroke="#000" stroke-width="2" stroke-linejoin="round"/>
<line x1="83.75" y1="341.50" x2="83.75" y2="557.50" stroke="#1a1a1a" stroke-width="0.95" />
<line x1="83.75" y1="553.00" x2="296.00" y2="553.00" stroke="#1a1a1a" stroke-width="0.95" />
<line x1="79.20" y1="341.50" x2="296.00" y2="341.50" stroke="#1a1a1a" stroke-width="0.95" />
<line x1="296.00" y1="341.50" x2="296.00" y2="553.00" stroke="#1a1a1a" stroke-width="0.95" />
<line x1="79.20" y1="552.70" x2="83.75" y2="552.70" stroke="#1a1a1a" stroke-width="0.95" />
<text x="76.20" y="556.65" font-size="11.00" text-anchor="end" fill="#000" >0</text>
<line x1="79.20" y1="531.58" x2="83.75" y2="531.58" stroke="#1a1a1a" stroke-width="0.95" />
<text x="76.20" y="535.53" font-size="11.00" text-anchor="end" fill="#000" >10</text>
<line x1="79.20" y1="510.45" x2="83.75" y2="510.45" stroke="#1a1a1a" stroke-width="0.95" />
<text x="76.20" y="514.40" font-size="11.00" text-anchor="end" fill="#000" >20</text>
<line x1="79.20" y1="489.33" x2="83.75" y2="489.33" stroke="#1a1a1a" stroke-width="0.95" />
<text x="76.20" y="493.28" font-size="11.00" text-anchor="end" fill="#000" >30</text>
<line x1="79.20" y1="468.20" x2="83.75" y2="468.20" stroke="#1a1a1a" stroke-width="0.95" />
<text x="76.20" y="472.15" font-size="11.00" text-anchor="end" fill="#000" >40</text>
<line x1="79.20" y1="447.08" x2="83.75" y2="447.08" stroke="#1a1a1a" stroke-width="0.95" />
<text x="76.20" y="451.03" font-size="11.00" text-anchor="end" fill="#000" >50</text>
<line x1="79.20" y1="425.95" x2="83.75" y2="425.95" stroke="#1a1a1a" stroke-width="0.95" />
<text x="76.20" y="429.90" font-size="11.00" text-anchor="end" fill="#000" >60</text>
<line x1="79.20" y1="404.83" x2="83.75" y2="404.83" stroke="#1a1a1a" stroke-width="0.95" />
<text x="76.20" y="408.78" font-size="11.00" text-anchor="end" fill="#000" >70</text>
<line x1="79.20" y1="383.70" x2="83.75" y2="383.70" stroke="#1a1a1a" stroke-width="0.95" />
<text x="76.20" y="387.65" font-size="11.00" text-anchor="end" fill="#000" >80</text>
<line x1="79.20" y1="362.58" x2="83.75" y2="362.58" stroke="#1a1a1a" stroke-width="0.95" />
<text x="76.20" y="366.53" font-size="11.00" text-anchor="end" fill="#000" >90</text>
<line x1="79.20" y1="341.45" x2="83.75" y2="341.45" stroke="#1a1a1a" stroke-width="0.95" />
<text x="76.20" y="345.40" font-size="11.00" text-anchor="end" fill="#000" >100</text>
<line x1="83.75" y1="553.00" x2="83.75" y2="557.50" stroke="#1a1a1a" stroke-width="0.95" />
<text x="83.75" y="568.50" font-size="11.00" text-anchor="middle" fill="#000" >1</text>
<line x1="129.85" y1="553.00" x2="129.85" y2="557.50" stroke="#1a1a1a" stroke-width="0.95" />
<text x="129.85" y="568.50" font-size="11.00" text-anchor="middle" fill="#000" >1.5</text>
<line x1="175.95" y1="553.00" x2="175.95" y2="557.50" stroke="#1a1a1a" stroke-width="0.95" />
<text x="175.95" y="568.50" font-size="11.00" text-anchor="middle" fill="#000" >2</text>
<line x1="222.05" y1="553.00" x2="222.05" y2="557.50" stroke="#1a1a1a" stroke-width="0.95" />
<text x="222.05" y="568.50" font-size="11.00" text-anchor="middle" fill="#000" >2.5</text>
<line x1="268.15" y1="553.00" x2="268.15" y2="557.50" stroke="#1a1a1a" stroke-width="0.95" />
<text x="268.15" y="568.50" font-size="11.00" text-anchor="middle" fill="#000" >3</text>
<text x="127.55" y="510.50" font-size="12.00" text-anchor="end" fill="#1a60f0" >54.0</text>
<text x="173.65" y="510.50" font-size="12.00" text-anchor="end" fill="#10a850" >78.3</text>
<text x="219.75" y="510.50" font-size="12.00" text-anchor="end" fill="#ff7f10" >89.5</text>
<text x="265.85" y="510.50" font-size="12.00" text-anchor="end" fill="#ff0010" >94.7</text>
<text x="277.65" y="510.50" font-size="12.00" text-anchor="start" fill="#000" >%</text>
<text transform="translate(26.60 336.8) scale(0.92 1)" font-size="16.5" font-weight="bold">c</text>
<text x="190.00" y="335.40" font-size="13.40" text-anchor="middle" fill="#000" >Ratio distribution, IRI vs COSMIC</text>
<text x="190.00" y="584.80" font-size="12.10" text-anchor="middle" fill="#000" >Ratios between IRI and COSMIC</text>
<text transform="translate(49.00 447.2) rotate(-90)" font-size="12" text-anchor="middle">Cumulative distribution, %</text>
<line x1="448.85" y1="552.70" x2="448.85" y2="373.35" stroke="#2f6ff0" stroke-width="1.00" stroke-dasharray="2.45 1.05"/>
<line x1="403.45" y1="373.35" x2="448.85" y2="373.35" stroke="#2f6ff0" stroke-width="1.00" stroke-dasharray="2.45 1.05"/>
<line x1="494.95" y1="552.70" x2="494.95" y2="348.84" stroke="#22b05a" stroke-width="1.00" stroke-dasharray="2.45 1.05"/>
<line x1="403.45" y1="348.84" x2="494.95" y2="348.84" stroke="#22b05a" stroke-width="1.00" stroke-dasharray="2.45 1.05"/>
<line x1="541.05" y1="552.70" x2="541.05" y2="343.99" stroke="#ff8a1a" stroke-width="1.00" stroke-dasharray="2.45 1.05"/>
<line x1="403.45" y1="343.99" x2="541.05" y2="343.99" stroke="#ff8a1a" stroke-width="1.00" stroke-dasharray="2.45 1.05"/>
<line x1="587.15" y1="552.70" x2="587.15" y2="342.51" stroke="#ff1a2a" stroke-width="1.00" stroke-dasharray="2.45 1.05"/>
<line x1="403.45" y1="342.51" x2="587.15" y2="342.51" stroke="#ff1a2a" stroke-width="1.00" stroke-dasharray="2.45 1.05"/>
<polyline points="402.75,552.70 403.22,546.23 403.69,541.45 404.16,537.16 404.63,533.17 405.09,529.39 405.56,525.77 406.03,522.29 406.50,518.91 406.97,515.63 407.44,512.44 407.91,509.33 408.38,506.28 408.84,503.30 409.31,500.38 409.78,497.52 410.25,494.71 410.72,491.95 411.19,489.24 411.66,486.58 412.13,483.96 412.60,481.38 413.06,478.85 413.53,476.36 414.00,473.91 414.47,471.50 414.94,469.12 415.41,466.78 415.88,464.48 416.35,462.22 416.81,460.00 417.28,457.80 417.75,455.65 418.22,453.53 418.69,451.44 419.16,449.38 419.63,447.36 420.10,445.38 420.56,443.42 421.03,441.50 421.50,439.61 421.97,437.75 422.44,435.92 422.91,434.12 423.38,432.36 423.85,430.62 424.32,428.92 424.78,427.24 425.25,425.60 425.72,423.98 426.19,422.39 426.66,420.83 427.13,419.30 427.60,417.80 428.07,416.32 428.53,414.87 429.00,413.45 429.47,412.06 429.94,410.69 430.41,409.34 431.74,405.66 433.08,402.18 434.41,398.89 435.74,395.78 437.08,392.85 438.41,390.09 439.74,387.48 441.08,385.03 442.41,382.72 443.74,380.55 445.08,378.51 446.41,376.59 447.74,374.78 449.08,373.08 450.41,371.49 451.74,369.99 453.08,368.59 454.41,367.26 455.74,366.02 457.08,364.85 458.41,363.75 459.74,362.72 461.07,361.74 462.41,360.83 463.74,359.96 465.07,359.15 466.41,358.38 467.74,357.66 469.07,356.97 470.41,356.32 471.74,355.71 473.07,355.13 474.41,354.59 475.74,354.06 477.07,353.57 478.41,353.10 479.74,352.66 481.07,352.23 482.41,351.83 483.74,351.45 485.07,351.08 486.41,350.73 487.74,350.40 489.07,350.08 490.41,349.78 491.74,349.49 493.07,349.21 494.41,348.94 495.74,348.69 497.07,348.44 498.41,348.21 499.74,347.98 501.07,347.77 502.41,347.56 503.74,347.36 505.07,347.17 506.41,346.98 507.74,346.81 509.07,346.64 510.41,346.47 511.74,346.32 513.07,346.16 514.40,346.02 515.74,345.88 517.07,345.74 518.40,345.61 519.74,345.48 521.07,345.36 522.40,345.24 523.74,345.13 525.07,345.02 526.40,344.91 527.74,344.81 529.07,344.71 530.40,344.62 531.74,344.53 533.07,344.44 534.40,344.35 535.74,344.27 537.07,344.19 538.40,344.12 539.74,344.04 541.07,343.97 542.40,343.90 543.74,343.83 545.07,343.77 546.40,343.70 547.74,343.64 549.07,343.59 550.40,343.53 551.74,343.47 553.07,343.42 554.40,343.37 555.74,343.32 557.07,343.27 558.40,343.23 559.74,343.18 561.07,343.14 562.40,343.10 563.74,343.06 565.07,343.02 566.40,342.98 567.73,342.94 569.07,342.91 570.40,342.87 571.73,342.84 573.07,342.81 574.40,342.77 575.73,342.74 577.07,342.72 578.40,342.69 579.73,342.66 581.07,342.63 582.40,342.61 583.73,342.58 585.07,342.56 586.40,342.53 587.73,342.51 589.07,342.49 590.40,342.47 591.73,342.45 593.07,342.43 594.40,342.41 595.73,342.39 597.07,342.37 598.40,342.35 599.73,342.34 601.07,342.32 602.40,342.30 603.73,342.29 605.07,342.27 606.40,342.26 607.73,342.25 609.07,342.23 610.40,342.22 611.73,342.21 613.07,342.19 614.40,342.18 615.73,342.17" fill="none" stroke="#000" stroke-width="2" stroke-linejoin="round"/>
<line x1="402.75" y1="341.50" x2="402.75" y2="557.50" stroke="#1a1a1a" stroke-width="0.95" />
<line x1="402.75" y1="553.00" x2="615.00" y2="553.00" stroke="#1a1a1a" stroke-width="0.95" />
<line x1="398.20" y1="341.50" x2="615.00" y2="341.50" stroke="#1a1a1a" stroke-width="0.95" />
<line x1="615.00" y1="341.50" x2="615.00" y2="553.00" stroke="#1a1a1a" stroke-width="0.95" />
<line x1="398.20" y1="552.70" x2="402.75" y2="552.70" stroke="#1a1a1a" stroke-width="0.95" />
<text x="395.20" y="556.65" font-size="11.00" text-anchor="end" fill="#000" >0</text>
<line x1="398.20" y1="531.58" x2="402.75" y2="531.58" stroke="#1a1a1a" stroke-width="0.95" />
<text x="395.20" y="535.53" font-size="11.00" text-anchor="end" fill="#000" >10</text>
<line x1="398.20" y1="510.45" x2="402.75" y2="510.45" stroke="#1a1a1a" stroke-width="0.95" />
<text x="395.20" y="514.40" font-size="11.00" text-anchor="end" fill="#000" >20</text>
<line x1="398.20" y1="489.33" x2="402.75" y2="489.33" stroke="#1a1a1a" stroke-width="0.95" />
<text x="395.20" y="493.28" font-size="11.00" text-anchor="end" fill="#000" >30</text>
<line x1="398.20" y1="468.20" x2="402.75" y2="468.20" stroke="#1a1a1a" stroke-width="0.95" />
<text x="395.20" y="472.15" font-size="11.00" text-anchor="end" fill="#000" >40</text>
<line x1="398.20" y1="447.08" x2="402.75" y2="447.08" stroke="#1a1a1a" stroke-width="0.95" />
<text x="395.20" y="451.03" font-size="11.00" text-anchor="end" fill="#000" >50</text>
<line x1="398.20" y1="425.95" x2="402.75" y2="425.95" stroke="#1a1a1a" stroke-width="0.95" />
<text x="395.20" y="429.90" font-size="11.00" text-anchor="end" fill="#000" >60</text>
<line x1="398.20" y1="404.83" x2="402.75" y2="404.83" stroke="#1a1a1a" stroke-width="0.95" />
<text x="395.20" y="408.78" font-size="11.00" text-anchor="end" fill="#000" >70</text>
<line x1="398.20" y1="383.70" x2="402.75" y2="383.70" stroke="#1a1a1a" stroke-width="0.95" />
<text x="395.20" y="387.65" font-size="11.00" text-anchor="end" fill="#000" >80</text>
<line x1="398.20" y1="362.58" x2="402.75" y2="362.58" stroke="#1a1a1a" stroke-width="0.95" />
<text x="395.20" y="366.53" font-size="11.00" text-anchor="end" fill="#000" >90</text>
<line x1="398.20" y1="341.45" x2="402.75" y2="341.45" stroke="#1a1a1a" stroke-width="0.95" />
<text x="395.20" y="345.40" font-size="11.00" text-anchor="end" fill="#000" >100</text>
<line x1="402.75" y1="553.00" x2="402.75" y2="557.50" stroke="#1a1a1a" stroke-width="0.95" />
<text x="402.75" y="568.50" font-size="11.00" text-anchor="middle" fill="#000" >1</text>
<line x1="448.85" y1="553.00" x2="448.85" y2="557.50" stroke="#1a1a1a" stroke-width="0.95" />
<text x="448.85" y="568.50" font-size="11.00" text-anchor="middle" fill="#000" >1.5</text>
<line x1="494.95" y1="553.00" x2="494.95" y2="557.50" stroke="#1a1a1a" stroke-width="0.95" />
<text x="494.95" y="568.50" font-size="11.00" text-anchor="middle" fill="#000" >2</text>
<line x1="541.05" y1="553.00" x2="541.05" y2="557.50" stroke="#1a1a1a" stroke-width="0.95" />
<text x="541.05" y="568.50" font-size="11.00" text-anchor="middle" fill="#000" >2.5</text>
<line x1="587.15" y1="553.00" x2="587.15" y2="557.50" stroke="#1a1a1a" stroke-width="0.95" />
<text x="587.15" y="568.50" font-size="11.00" text-anchor="middle" fill="#000" >3</text>
<text x="446.55" y="510.50" font-size="12.00" text-anchor="end" fill="#1a60f0" >84.9</text>
<text x="492.65" y="510.50" font-size="12.00" text-anchor="end" fill="#10a850" >96.5</text>
<text x="538.75" y="510.50" font-size="12.00" text-anchor="end" fill="#ff7f10" >98.8</text>
<text x="584.85" y="510.50" font-size="12.00" text-anchor="end" fill="#ff0010" >99.5</text>
<text x="596.65" y="510.50" font-size="12.00" text-anchor="start" fill="#000" >%</text>
<text transform="translate(341.61 336.8) scale(0.92 1)" font-size="16.5" font-weight="bold">d</text>
<text x="509.00" y="335.40" font-size="13.40" text-anchor="middle" fill="#000" >Ratio distribution, NET vs COSMIC</text>
<text x="509.00" y="584.80" font-size="12.10" text-anchor="middle" fill="#000" >Ratios between NET and COSMIC</text>
<text transform="translate(368.00 447.2) rotate(-90)" font-size="12" text-anchor="middle">Cumulative distribution, %</text>
</svg>
</body></html>
